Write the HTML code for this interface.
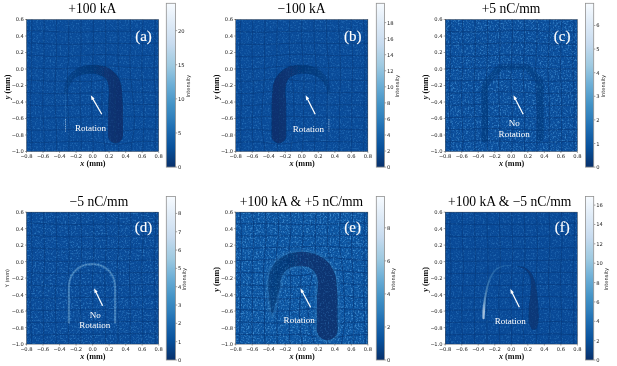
<!DOCTYPE html>
<html lang="en"><head><meta charset="utf-8"><title>Radiograph panels</title>
<style>html,body{margin:0;padding:0;background:#fff;overflow:hidden}svg{display:block}.t{font-family:"Liberation Serif","Times New Roman",serif}.s{font-family:"DejaVu Sans","Liberation Sans",sans-serif}</style></head><body>
<svg width="617" height="366" viewBox="0 0 617 366" role="img" aria-label="Six proton radiograph panels">
<defs>
<linearGradient id="cb" x1="0" y1="1" x2="0" y2="0"><stop offset="0" stop-color="#08306b"/><stop offset="0.06" stop-color="#084184"/><stop offset="0.12" stop-color="#08519c"/><stop offset="0.19" stop-color="#1561a9"/><stop offset="0.25" stop-color="#2171b5"/><stop offset="0.31" stop-color="#3282be"/><stop offset="0.38" stop-color="#4292c6"/><stop offset="0.44" stop-color="#57a0ce"/><stop offset="0.5" stop-color="#6caed6"/><stop offset="0.56" stop-color="#85bcdc"/><stop offset="0.62" stop-color="#9fcae1"/><stop offset="0.69" stop-color="#b3d3e8"/><stop offset="0.75" stop-color="#c7dbef"/><stop offset="0.81" stop-color="#d3e3f3"/><stop offset="0.88" stop-color="#dfebf7"/><stop offset="0.94" stop-color="#ebf3fb"/><stop offset="1" stop-color="#f7fbff"/></linearGradient>
<filter id="nza" x="0" y="0" width="100%" height="100%" color-interpolation-filters="sRGB"><feTurbulence type="fractalNoise" baseFrequency="0.6" numOctaves="2" seed="104" result="n"/><feColorMatrix in="n" type="matrix" values="0 0 0 0 0.27  0 0 0 0 0.58  0 0 0 0 0.84  1 0 0 0 -0.5"/></filter>
<filter id="nda" x="0" y="0" width="100%" height="100%" color-interpolation-filters="sRGB"><feTurbulence type="fractalNoise" baseFrequency="0.62" numOctaves="2" seed="120" result="n"/><feColorMatrix in="n" type="matrix" values="0 0 0 0 0.03  0 0 0 0 0.19  0 0 0 0 0.42  0 0.55 0 0 -0.28"/></filter>
<filter id="nzb" x="0" y="0" width="100%" height="100%" color-interpolation-filters="sRGB"><feTurbulence type="fractalNoise" baseFrequency="0.6" numOctaves="2" seed="105" result="n"/><feColorMatrix in="n" type="matrix" values="0 0 0 0 0.27  0 0 0 0 0.58  0 0 0 0 0.84  1.05 0 0 0 -0.53"/></filter>
<filter id="ndb" x="0" y="0" width="100%" height="100%" color-interpolation-filters="sRGB"><feTurbulence type="fractalNoise" baseFrequency="0.62" numOctaves="2" seed="121" result="n"/><feColorMatrix in="n" type="matrix" values="0 0 0 0 0.03  0 0 0 0 0.19  0 0 0 0 0.42  0 0.58 0 0 -0.29"/></filter>
<filter id="nzc" x="0" y="0" width="100%" height="100%" color-interpolation-filters="sRGB"><feTurbulence type="fractalNoise" baseFrequency="0.6" numOctaves="2" seed="106" result="n"/><feColorMatrix in="n" type="matrix" values="0 0 0 0 0.27  0 0 0 0 0.58  0 0 0 0 0.84  2.1 0 0 0 -1.05"/></filter>
<filter id="ndc" x="0" y="0" width="100%" height="100%" color-interpolation-filters="sRGB"><feTurbulence type="fractalNoise" baseFrequency="0.62" numOctaves="2" seed="122" result="n"/><feColorMatrix in="n" type="matrix" values="0 0 0 0 0.03  0 0 0 0 0.19  0 0 0 0 0.42  0 1.16 0 0 -0.58"/></filter>
<filter id="nzd" x="0" y="0" width="100%" height="100%" color-interpolation-filters="sRGB"><feTurbulence type="fractalNoise" baseFrequency="0.6" numOctaves="2" seed="107" result="n"/><feColorMatrix in="n" type="matrix" values="0 0 0 0 0.27  0 0 0 0 0.58  0 0 0 0 0.84  1.5 0 0 0 -0.75"/></filter>
<filter id="ndd" x="0" y="0" width="100%" height="100%" color-interpolation-filters="sRGB"><feTurbulence type="fractalNoise" baseFrequency="0.62" numOctaves="2" seed="123" result="n"/><feColorMatrix in="n" type="matrix" values="0 0 0 0 0.03  0 0 0 0 0.19  0 0 0 0 0.42  0 0.83 0 0 -0.41"/></filter>
<filter id="nze" x="0" y="0" width="100%" height="100%" color-interpolation-filters="sRGB"><feTurbulence type="fractalNoise" baseFrequency="0.6" numOctaves="2" seed="108" result="n"/><feColorMatrix in="n" type="matrix" values="0 0 0 0 0.27  0 0 0 0 0.58  0 0 0 0 0.84  2.5 0 0 0 -1.25"/></filter>
<filter id="nde" x="0" y="0" width="100%" height="100%" color-interpolation-filters="sRGB"><feTurbulence type="fractalNoise" baseFrequency="0.62" numOctaves="2" seed="124" result="n"/><feColorMatrix in="n" type="matrix" values="0 0 0 0 0.03  0 0 0 0 0.19  0 0 0 0 0.42  0 1.38 0 0 -0.69"/></filter>
<filter id="nzf" x="0" y="0" width="100%" height="100%" color-interpolation-filters="sRGB"><feTurbulence type="fractalNoise" baseFrequency="0.6" numOctaves="2" seed="109" result="n"/><feColorMatrix in="n" type="matrix" values="0 0 0 0 0.27  0 0 0 0 0.58  0 0 0 0 0.84  1 0 0 0 -0.5"/></filter>
<filter id="ndf" x="0" y="0" width="100%" height="100%" color-interpolation-filters="sRGB"><feTurbulence type="fractalNoise" baseFrequency="0.62" numOctaves="2" seed="125" result="n"/><feColorMatrix in="n" type="matrix" values="0 0 0 0 0.03  0 0 0 0 0.19  0 0 0 0 0.42  0 0.55 0 0 -0.28"/></filter>
<filter id="b1" x="-20%" y="-20%" width="140%" height="140%"><feGaussianBlur stdDeviation="0.7"/></filter>
<filter id="b3" x="-20%" y="-20%" width="140%" height="140%"><feGaussianBlur stdDeviation="1.1"/></filter>
<filter id="b2" x="-20%" y="-20%" width="140%" height="140%"><feGaussianBlur stdDeviation="0.45"/></filter>
<marker id="ah" markerWidth="6" markerHeight="6" refX="2" refY="3" orient="auto" markerUnits="userSpaceOnUse"><path d="M0 0.6 L5.2 3 L0 5.4 Z" fill="#fff"/></marker>
</defs>
<rect width="617" height="366" fill="#fff"/>
<g id="panel-a">
<clipPath id="cp0"><rect x="26.5" y="19.5" width="132.2" height="132"/></clipPath>
<rect x="26.5" y="19.5" width="132.2" height="132" fill="#0a4c9a"/>
<g clip-path="url(#cp0)">
<rect x="26.5" y="19.5" width="132.2" height="132" filter="url(#nda)"/>
<rect x="26.5" y="19.5" width="132.2" height="132" filter="url(#nza)"/>
<path transform="translate(26.5 19.5)" d="M5.41 -0.86 L5.35 2.15 L5.29 5.17 L5.22 8.19 L5.17 11.22 L5.12 14.24 L5.09 17.27 L5.08 20.31 L5.08 23.34 L5.09 26.38 L5.12 29.42 L5.16 32.46 L5.19 35.51 L5.23 38.55 L5.25 41.6 L5.25 44.65 L5.24 47.7 L5.2 50.75 L5.14 53.81 L5.05 56.86 L4.94 59.91 L4.81 62.97 L4.68 66.02 L4.54 69.08 L4.4 72.13 L4.27 75.19 L4.16 78.24 L4.08 81.29 L4.02 84.34 L4 87.39 L4.01 90.43 L4.06 93.48 L4.14 96.52 L4.25 99.56 L4.38 102.6 L4.53 105.64 L4.68 108.67 L4.83 111.7 L4.97 114.73 L5.1 117.76 L5.2 120.78 L5.28 123.8 L5.34 126.81 L5.37 129.83 L5.37 132.84 M17.71 -0.48 L17.64 2.57 L17.57 5.62 L17.52 8.67 L17.47 11.72 L17.44 14.77 L17.43 17.82 L17.43 20.88 L17.44 23.93 L17.47 26.98 L17.51 30.04 L17.54 33.09 L17.56 36.14 L17.58 39.19 L17.57 42.23 L17.54 45.28 L17.48 48.32 L17.4 51.37 L17.29 54.41 L17.16 57.46 L17.02 60.5 L16.88 63.55 L16.74 66.6 L16.61 69.64 L16.5 72.68 L16.41 75.72 L16.35 78.75 L16.33 81.77 L16.33 84.79 L16.37 87.8 L16.43 90.81 L16.53 93.82 L16.65 96.82 L16.79 99.82 L16.94 102.82 L17.09 105.82 L17.24 108.82 L17.38 111.81 L17.5 114.8 L17.61 117.79 L17.68 120.77 L17.73 123.75 L17.75 126.73 L17.75 129.71 L17.73 132.68 M29.99 0.16 L29.92 3.21 L29.86 6.26 L29.82 9.3 L29.79 12.35 L29.77 15.4 L29.78 18.44 L29.79 21.48 L29.82 24.51 L29.84 27.54 L29.86 30.56 L29.87 33.58 L29.85 36.58 L29.8 39.57 L29.72 42.56 L29.6 45.55 L29.45 48.54 L29.28 51.56 L29.1 54.59 L28.93 57.64 L28.78 60.71 L28.65 63.79 L28.56 66.87 L28.5 69.93 L28.47 72.97 L28.48 75.98 L28.51 78.97 L28.58 81.93 L28.66 84.88 L28.77 87.83 L28.89 90.77 L29.03 93.72 L29.19 96.68 L29.35 99.63 L29.5 102.6 L29.66 105.56 L29.79 108.53 L29.91 111.49 L30.01 114.45 L30.08 117.42 L30.12 120.38 L30.13 123.34 L30.12 126.3 L30.1 129.26 L30.05 132.22 M42.27 0.64 L42.21 3.66 L42.16 6.69 L42.13 9.71 L42.12 12.72 L42.12 15.73 L42.14 18.74 L42.16 21.73 L42.18 24.71 L42.18 27.67 L42.17 30.6 L42.11 33.5 L42.01 36.39 L41.87 39.26 L41.7 42.16 L41.5 45.11 L41.32 48.13 L41.16 51.23 L41.05 54.38 L40.98 57.57 L40.96 60.76 L40.97 63.91 L40.99 67 L41.02 70.04 L41.05 73.01 L41.07 75.95 L41.11 78.85 L41.17 81.74 L41.25 84.62 L41.35 87.51 L41.48 90.41 L41.62 93.32 L41.77 96.25 L41.92 99.19 L42.07 102.14 L42.2 105.1 L42.32 108.06 L42.41 111.02 L42.47 113.99 L42.51 116.95 L42.51 119.92 L42.5 122.89 L42.46 125.85 L42.42 128.82 L42.36 131.8 M54.55 0.71 L54.51 3.7 L54.48 6.69 L54.47 9.67 L54.47 12.65 L54.49 15.62 L54.51 18.58 L54.53 21.52 L54.54 24.43 L54.53 27.29 L54.48 30.1 L54.39 32.87 L54.26 35.64 L54.1 38.45 L53.91 41.37 L53.74 44.45 L53.61 47.68 L53.52 51.04 L53.5 54.43 L53.51 57.78 L53.55 61 L53.59 64.07 L53.61 67.01 L53.61 69.86 L53.61 72.68 L53.61 75.49 L53.63 78.32 L53.67 81.18 L53.74 84.08 L53.85 86.99 L53.97 89.93 L54.11 92.88 L54.26 95.84 L54.4 98.81 L54.52 101.78 L54.63 104.76 L54.72 107.74 L54.78 110.73 L54.82 113.71 L54.83 116.7 L54.82 119.69 L54.79 122.68 L54.75 125.66 L54.7 128.65 L54.65 131.64 M66.85 0.43 L66.82 3.4 L66.81 6.37 L66.82 9.33 L66.84 12.3 L66.86 15.25 L66.89 18.19 L66.92 21.1 L66.93 23.97 L66.93 26.78 L66.9 29.52 L66.84 32.21 L66.74 34.91 L66.6 37.68 L66.42 40.61 L66.2 43.77 L65.95 47.14 L65.69 50.66 L65.45 54.2 L65.22 57.65 L65.04 60.9 L64.9 63.94 L64.82 66.82 L64.77 69.59 L64.76 72.33 L64.79 75.1 L64.84 77.92 L64.92 80.8 L65.01 83.72 L65.11 86.67 L65.22 89.65 L65.33 92.64 L65.43 95.65 L65.54 98.68 L65.65 101.72 L65.76 104.77 L65.88 107.84 L66.01 110.91 L66.16 113.96 L66.31 117 L66.46 120 L66.58 122.98 L66.68 125.94 L66.76 128.89 L66.8 131.84 M79.16 0.06 L79.16 3.04 L79.16 6.01 L79.18 8.99 L79.21 11.96 L79.24 14.93 L79.27 17.88 L79.29 20.82 L79.3 23.72 L79.31 26.57 L79.32 29.34 L79.32 32.06 L79.32 34.73 L79.29 37.41 L79.22 40.18 L79.08 43.1 L78.85 46.21 L78.51 49.5 L78.08 52.89 L77.58 56.29 L77.08 59.62 L76.61 62.81 L76.21 65.87 L75.9 68.81 L75.67 71.69 L75.53 74.55 L75.45 77.43 L75.41 80.33 L75.4 83.28 L75.4 86.26 L75.41 89.28 L75.43 92.35 L75.45 95.47 L75.49 98.67 L75.57 101.95 L75.71 105.31 L75.92 108.72 L76.22 112.13 L76.6 115.47 L77.03 118.67 L77.49 121.7 L77.92 124.56 L78.3 127.29 L78.61 129.96 L78.84 132.62 M91.5 -0.13 L91.51 2.86 L91.53 5.85 L91.55 8.84 L91.58 11.83 L91.6 14.82 L91.62 17.81 L91.62 20.79 L91.61 23.75 L91.59 26.69 L91.57 29.6 L91.57 32.45 L91.59 35.26 L91.65 38.03 L91.74 40.78 L91.85 43.54 L91.98 46.36 L92.08 49.25 L92.16 52.23 L92.19 55.29 L92.18 58.4 L92.16 61.53 L92.14 64.65 L92.15 67.75 L92.19 70.82 L92.29 73.86 L92.42 76.89 L92.58 79.91 L92.77 82.94 L92.96 85.98 L93.13 89.05 L93.29 92.17 L93.41 95.36 L93.5 98.65 L93.52 102.07 L93.49 105.62 L93.4 109.24 L93.24 112.85 L93.03 116.36 L92.78 119.66 L92.52 122.69 L92.27 125.46 L92.06 128.05 L91.88 130.53 L91.76 133.02 M103.85 -0.13 L103.87 2.86 L103.9 5.86 L103.92 8.86 L103.94 11.86 L103.95 14.86 L103.94 17.85 L103.91 20.85 L103.86 23.84 L103.8 26.83 L103.72 29.81 L103.64 32.78 L103.57 35.74 L103.52 38.68 L103.5 41.6 L103.53 44.51 L103.61 47.42 L103.74 50.33 L103.94 53.26 L104.17 56.21 L104.45 59.18 L104.75 62.18 L105.07 65.2 L105.39 68.23 L105.73 71.27 L106.06 74.3 L106.39 77.33 L106.7 80.36 L107 83.38 L107.26 86.41 L107.5 89.43 L107.69 92.48 L107.83 95.54 L107.9 98.65 L107.89 101.81 L107.78 105.01 L107.56 108.24 L107.23 111.47 L106.8 114.66 L106.31 117.77 L105.8 120.78 L105.31 123.7 L104.89 126.54 L104.55 129.34 L104.31 132.15 M116.22 -0.13 L116.24 2.87 L116.26 5.86 L116.28 8.85 L116.28 11.84 L116.27 14.84 L116.24 17.83 L116.18 20.82 L116.11 23.81 L116.02 26.8 L115.91 29.78 L115.8 32.77 L115.68 35.76 L115.57 38.74 L115.48 41.72 L115.42 44.71 L115.38 47.69 L115.38 50.67 L115.42 53.65 L115.5 56.63 L115.62 59.61 L115.77 62.6 L115.94 65.59 L116.14 68.59 L116.34 71.58 L116.54 74.58 L116.73 77.58 L116.91 80.58 L117.07 83.58 L117.2 86.58 L117.3 89.58 L117.36 92.58 L117.39 95.59 L117.39 98.61 L117.35 101.62 L117.28 104.65 L117.19 107.68 L117.07 110.71 L116.93 113.74 L116.79 116.76 L116.66 119.77 L116.54 122.78 L116.45 125.78 L116.39 128.78 L116.36 131.78 M128.58 -0.26 L128.6 2.73 L128.62 5.71 L128.62 8.7 L128.6 11.69 L128.57 14.67 L128.51 17.66 L128.43 20.64 L128.34 23.63 L128.23 26.62 L128.12 29.61 L128 32.6 L127.89 35.59 L127.8 38.58 L127.72 41.57 L127.68 44.56 L127.66 47.56 L127.68 50.55 L127.73 53.55 L127.81 56.55 L127.93 59.55 L128.06 62.55 L128.22 65.56 L128.38 68.56 L128.55 71.57 L128.71 74.58 L128.85 77.59 L128.97 80.61 L129.07 83.62 L129.14 86.64 L129.18 89.66 L129.19 92.68 L129.17 95.7 L129.13 98.73 L129.07 101.75 L128.99 104.78 L128.92 107.81 L128.84 110.84 L128.77 113.87 L128.71 116.9 L128.67 119.94 L128.65 122.97 L128.64 126.01 L128.65 129.04 L128.67 132.08 M0.29 11.03 L3.28 11.07 L6.27 11.14 L9.26 11.24 L12.25 11.36 L15.24 11.5 L18.23 11.66 L21.23 11.82 L24.22 11.97 L27.22 12.13 L30.21 12.27 L33.21 12.39 L36.21 12.49 L39.2 12.57 L42.2 12.62 L45.21 12.64 L48.21 12.64 L51.21 12.61 L54.21 12.56 L57.22 12.49 L60.22 12.41 L63.23 12.31 L66.24 12.22 L69.24 12.12 L72.25 12.03 L75.26 11.95 L78.27 11.88 L81.27 11.82 L84.28 11.78 L87.29 11.75 L90.3 11.74 L93.3 11.73 L96.31 11.73 L99.31 11.74 L102.32 11.75 L105.32 11.76 L108.32 11.77 L111.32 11.77 L114.32 11.76 L117.32 11.74 L120.31 11.71 L123.31 11.67 L126.3 11.62 L129.3 11.57 L132.29 11.52 M0.18 23.35 L3.18 23.43 L6.19 23.54 L9.19 23.66 L12.2 23.81 L15.21 23.96 L18.21 24.12 L21.22 24.28 L24.23 24.43 L27.24 24.57 L30.24 24.68 L33.25 24.77 L36.26 24.83 L39.26 24.86 L42.26 24.86 L45.27 24.82 L48.27 24.76 L51.28 24.68 L54.28 24.58 L57.29 24.47 L60.3 24.35 L63.32 24.24 L66.33 24.13 L69.34 24.04 L72.35 23.96 L75.36 23.91 L78.36 23.87 L81.36 23.85 L84.36 23.86 L87.35 23.87 L90.33 23.89 L93.31 23.92 L96.29 23.94 L99.27 23.97 L102.25 23.99 L105.23 24 L108.2 24 L111.18 23.99 L114.16 23.97 L117.13 23.94 L120.11 23.91 L123.08 23.86 L126.05 23.82 L129.02 23.77 L131.99 23.72 M0.29 35.72 L3.3 35.83 L6.31 35.96 L9.32 36.11 L12.33 36.27 L15.33 36.43 L18.33 36.58 L21.33 36.72 L24.32 36.84 L27.3 36.93 L30.27 36.98 L33.23 37 L36.18 36.96 L39.13 36.88 L42.08 36.76 L45.04 36.61 L48 36.43 L50.99 36.23 L53.98 36.03 L57 35.82 L60.02 35.63 L63.06 35.45 L66.11 35.3 L69.17 35.17 L72.24 35.09 L75.3 35.05 L78.36 35.07 L81.4 35.13 L84.42 35.25 L87.4 35.39 L90.35 35.56 L93.27 35.73 L96.17 35.88 L99.08 36 L101.98 36.1 L104.9 36.16 L107.83 36.19 L110.78 36.19 L113.73 36.17 L116.69 36.14 L119.65 36.1 L122.62 36.06 L125.59 36.02 L128.57 35.98 L131.54 35.94 M0.35 48.13 L3.35 48.27 L6.33 48.42 L9.32 48.58 L12.3 48.74 L15.26 48.88 L18.22 49.01 L21.15 49.12 L24.06 49.18 L26.95 49.21 L29.82 49.19 L32.68 49.13 L35.55 49.03 L38.44 48.92 L41.36 48.79 L44.32 48.68 L47.31 48.57 L50.31 48.49 L53.32 48.41 L56.33 48.33 L59.32 48.23 L62.31 48.1 L65.3 47.93 L68.32 47.72 L71.39 47.48 L74.54 47.22 L77.76 46.97 L81.04 46.79 L84.32 46.7 L87.56 46.74 L90.7 46.88 L93.71 47.12 L96.59 47.4 L99.39 47.69 L102.14 47.94 L104.9 48.13 L107.7 48.25 L110.55 48.32 L113.46 48.34 L116.4 48.33 L119.37 48.3 L122.35 48.26 L125.35 48.23 L128.36 48.2 L131.37 48.19 M0.07 60.57 L3.04 60.73 L6 60.89 L8.95 61.05 L11.89 61.2 L14.82 61.33 L17.72 61.45 L20.6 61.53 L23.45 61.59 L26.29 61.62 L29.14 61.64 L32.03 61.64 L34.97 61.65 L37.98 61.67 L41.05 61.71 L44.15 61.76 L47.25 61.82 L50.31 61.88 L53.31 61.93 L56.22 61.96 L59.04 61.97 L61.78 61.94 L64.46 61.86 L67.13 61.71 L69.86 61.47 L72.75 61.14 L75.89 60.73 L79.32 60.28 L83.01 59.86 L86.83 59.54 L90.62 59.37 L94.19 59.35 L97.45 59.49 L100.4 59.71 L103.12 59.95 L105.72 60.17 L108.33 60.34 L111.01 60.45 L113.79 60.5 L116.66 60.51 L119.61 60.5 L122.61 60.48 L125.63 60.46 L128.67 60.45 L131.72 60.46 M-0.48 73.04 L2.48 73.2 L5.44 73.36 L8.39 73.51 L11.34 73.65 L14.28 73.77 L17.21 73.87 L20.12 73.96 L23.03 74.03 L25.95 74.09 L28.89 74.13 L31.88 74.17 L34.93 74.18 L38.02 74.18 L41.14 74.14 L44.26 74.08 L47.35 73.99 L50.39 73.88 L53.36 73.76 L56.24 73.65 L59.04 73.55 L61.72 73.47 L64.27 73.4 L66.73 73.32 L69.17 73.22 L71.74 73.06 L74.62 72.86 L77.95 72.61 L81.8 72.36 L86.03 72.15 L90.39 72.01 L94.59 71.98 L98.37 72.05 L101.64 72.18 L104.46 72.35 L107 72.5 L109.46 72.61 L111.97 72.69 L114.61 72.72 L117.39 72.73 L120.29 72.73 L123.26 72.72 L126.27 72.72 L129.31 72.73 L132.36 72.76 M-0.87 85.51 L2.12 85.67 L5.11 85.81 L8.11 85.94 L11.11 86.05 L14.11 86.14 L17.11 86.21 L20.11 86.25 L23.11 86.27 L26.12 86.27 L29.14 86.25 L32.18 86.22 L35.23 86.15 L38.3 86.07 L41.38 85.96 L44.45 85.84 L47.51 85.7 L50.54 85.57 L53.53 85.45 L56.47 85.34 L59.31 85.25 L62.02 85.17 L64.56 85.11 L66.95 85.03 L69.26 84.95 L71.68 84.84 L74.43 84.71 L77.73 84.57 L81.68 84.45 L86.16 84.37 L90.87 84.35 L95.42 84.39 L99.49 84.48 L102.92 84.61 L105.76 84.73 L108.22 84.84 L110.53 84.91 L112.89 84.96 L115.4 84.97 L118.08 84.98 L120.9 84.98 L123.82 84.99 L126.8 85 L129.81 85.04 L132.82 85.09 M-0.75 97.97 L2.28 98.11 L5.32 98.24 L8.36 98.34 L11.41 98.41 L14.45 98.46 L17.5 98.47 L20.55 98.46 L23.6 98.43 L26.65 98.37 L29.71 98.29 L32.76 98.2 L35.82 98.09 L38.88 97.98 L41.94 97.86 L45 97.75 L48.04 97.65 L51.08 97.55 L54.08 97.48 L57.02 97.42 L59.85 97.37 L62.53 97.34 L65.02 97.32 L67.32 97.3 L69.52 97.28 L71.83 97.26 L74.51 97.23 L77.81 97.2 L81.84 97.17 L86.48 97.15 L91.39 97.15 L96.13 97.16 L100.32 97.19 L103.78 97.21 L106.57 97.24 L108.92 97.25 L111.1 97.26 L113.32 97.25 L115.72 97.25 L118.31 97.25 L121.07 97.26 L123.93 97.28 L126.87 97.32 L129.84 97.38 L132.82 97.46 M-0.21 110.41 L2.85 110.53 L5.9 110.62 L8.95 110.69 L12.01 110.72 L15.06 110.73 L18.11 110.7 L21.16 110.65 L24.21 110.58 L27.26 110.49 L30.3 110.39 L33.35 110.27 L36.39 110.16 L39.43 110.04 L42.46 109.93 L45.5 109.83 L48.52 109.75 L51.53 109.68 L54.51 109.64 L57.44 109.61 L60.27 109.62 L62.96 109.66 L65.48 109.76 L67.83 109.91 L70.1 110.14 L72.46 110.44 L75.15 110.78 L78.39 111.12 L82.26 111.4 L86.68 111.56 L91.34 111.58 L95.84 111.43 L99.86 111.16 L103.24 110.82 L106.03 110.47 L108.43 110.15 L110.68 109.91 L112.97 109.74 L115.42 109.63 L118.04 109.59 L120.8 109.58 L123.67 109.61 L126.59 109.67 L129.55 109.75 L132.53 109.84 M0.31 122.82 L3.35 122.9 L6.38 122.96 L9.41 122.98 L12.44 122.98 L15.47 122.95 L18.49 122.89 L21.51 122.81 L24.53 122.71 L27.55 122.6 L30.56 122.48 L33.57 122.36 L36.58 122.25 L39.58 122.14 L42.59 122.04 L45.59 121.96 L48.59 121.9 L51.57 121.85 L54.55 121.83 L57.5 121.83 L60.4 121.87 L63.25 121.95 L66.01 122.1 L68.69 122.34 L71.34 122.67 L74.02 123.1 L76.87 123.6 L79.96 124.1 L83.35 124.51 L87 124.75 L90.75 124.77 L94.44 124.55 L97.9 124.15 L101.06 123.65 L103.96 123.13 L106.67 122.68 L109.32 122.34 L111.99 122.1 L114.73 121.97 L117.56 121.92 L120.45 121.92 L123.39 121.97 L126.36 122.04 L129.34 122.14 L132.34 122.24" stroke="#083a7c" stroke-width="0.95" fill="none" opacity="0.62"/>
<g transform="translate(26.5 19.5)">
<linearGradient id="ga" gradientUnits="userSpaceOnUse" x1="38" y1="0" x2="95" y2="0"><stop offset="0" stop-color="#083472" stop-opacity="0.34"/><stop offset="0.14" stop-color="#083472" stop-opacity="0.5"/><stop offset="0.45" stop-color="#083472" stop-opacity="0.74"/><stop offset="0.75" stop-color="#08326f" stop-opacity="0.88"/><stop offset="0.9" stop-color="#08316d" stop-opacity="0.96"/></linearGradient>
<path d="M37.6 74.76 L37.59 72.86 L37.59 71.01 L37.64 69.19 L37.78 67.39 L38.03 65.6 L38.42 63.84 L38.97 62.12 L39.7 60.47 L40.6 58.93 L41.61 57.45 L42.69 56.02 L43.84 54.64 L45.07 53.32 L46.39 52.08 L47.8 50.9 L49.29 49.82 L50.87 48.83 L52.53 47.95 L54.27 47.19 L56.08 46.56 L57.96 46.07 L59.9 45.74 L61.89 45.55 L63.99 45.44 L67.09 45.32 L69.45 45.32 L71.6 45.42 L73.63 45.64 L75.57 45.98 L77.43 46.46 L79.2 47.08 L80.89 47.84 L82.49 48.73 L84.02 49.7 L85.49 50.76 L86.88 51.92 L88.2 53.18 L89.43 54.54 L90.57 56.01 L91.62 57.57 L92.56 59.24 L93.39 61.01 L94.1 62.89 L94.68 64.86 L95.12 66.95 L95.41 69.18 L95.59 71.64 L95.78 74.75 L95.97 77.39 L96.16 79.99 L96.32 82.58 L96.4 85.17 L96.4 87.77 L96.41 90.36 L96.41 92.96 L96.42 95.55 L96.44 98.14 L96.45 100.74 L96.46 103.33 L96.47 105.92 L96.48 108.52 L96.49 111.11 L96.5 113.71 L96.5 116.3 L96.24 118.24 L95.5 120.05 L94.3 121.6 L92.75 122.8 L90.94 123.54 L89 123.8 L87.06 123.54 L85.25 122.8 L83.7 121.6 L82.5 120.05 L81.76 118.24 L81.5 116.3 L81.5 113.71 L81.51 111.11 L81.52 108.52 L81.53 105.92 L81.54 103.33 L81.55 100.74 L81.56 98.14 L81.58 95.55 L81.59 92.96 L81.59 90.36 L81.6 87.77 L81.6 85.17 L81.68 82.58 L81.84 79.99 L82.03 77.39 L82.22 74.85 L82.33 72.08 L82.26 70.29 L82.12 68.77 L81.98 67.42 L81.81 66.19 L81.6 65.05 L81.35 63.99 L81.05 62.99 L80.69 62.06 L80.27 61.18 L79.78 60.35 L79.22 59.58 L78.58 58.86 L77.86 58.2 L77.05 57.61 L76.14 57.09 L75.17 56.61 L74.11 56.15 L72.96 55.71 L71.69 55.3 L70.27 54.94 L68.67 54.62 L66.79 54.36 L64.01 54.16 L62.38 54.15 L60.91 54.27 L59.5 54.44 L58.12 54.66 L56.77 54.94 L55.44 55.28 L54.14 55.69 L52.87 56.18 L51.63 56.75 L50.44 57.42 L49.3 58.17 L48.22 59.02 L47.21 59.96 L46.28 60.99 L45.46 62.11 L44.7 63.29 L43.95 64.49 L43.21 65.73 L42.5 67.04 L41.84 68.41 L41.27 69.86 L40.82 71.4 L40.52 73.02 L40.4 74.84Z" fill="url(#ga)" filter="url(#b1)"/>
<path d="M39 110.5 V72" stroke="#4f93cc" stroke-width="1" opacity="0.22" fill="none"/>
<path d="M39 112.3 V98.5" stroke="#d8e8f6" stroke-width="0.85" stroke-dasharray="1.3 1.0" opacity="0.62" fill="none"/>
</g>
<rect x="26.87" y="20.11" width="131.83" height="131.39" filter="url(#nza)" opacity="0.4"/>
</g>
<rect x="26.5" y="19.5" width="132.2" height="132" fill="none" stroke="#222" stroke-width="0.35"/>
<path d="M26.5 151.5 v1.5 M26.5 19.5 h-1.5 M43.02 151.5 v1.5 M26.5 36 h-1.5 M59.55 151.5 v1.5 M26.5 52.5 h-1.5 M76.07 151.5 v1.5 M26.5 69 h-1.5 M92.6 151.5 v1.5 M26.5 85.5 h-1.5 M109.12 151.5 v1.5 M26.5 102 h-1.5 M125.65 151.5 v1.5 M26.5 118.5 h-1.5 M142.17 151.5 v1.5 M26.5 135 h-1.5 M158.7 151.5 v1.5 M26.5 151.5 h-1.5" stroke="#222" stroke-width="0.4" fill="none"/>
<g class="s" font-size="5.2" fill="#222">
<text x="26.5" y="158.2" text-anchor="middle">−<tspan dx="-0.45">0.8</tspan></text>
<text x="43.02" y="158.2" text-anchor="middle">−<tspan dx="-0.45">0.6</tspan></text>
<text x="59.55" y="158.2" text-anchor="middle">−<tspan dx="-0.45">0.4</tspan></text>
<text x="76.07" y="158.2" text-anchor="middle">−<tspan dx="-0.45">0.2</tspan></text>
<text x="92.6" y="158.2" text-anchor="middle">0.0</text>
<text x="109.12" y="158.2" text-anchor="middle">0.2</text>
<text x="125.65" y="158.2" text-anchor="middle">0.4</text>
<text x="142.17" y="158.2" text-anchor="middle">0.6</text>
<text x="158.7" y="158.2" text-anchor="middle">0.8</text>
<text x="23.9" y="21.4" text-anchor="end">0.6</text>
<text x="23.9" y="37.9" text-anchor="end">0.4</text>
<text x="23.9" y="54.4" text-anchor="end">0.2</text>
<text x="23.9" y="70.9" text-anchor="end">0.0</text>
<text x="23.9" y="87.4" text-anchor="end">−<tspan dx="-0.45">0.2</tspan></text>
<text x="23.9" y="103.9" text-anchor="end">−<tspan dx="-0.45">0.4</tspan></text>
<text x="23.9" y="120.4" text-anchor="end">−<tspan dx="-0.45">0.6</tspan></text>
<text x="23.9" y="136.9" text-anchor="end">−<tspan dx="-0.45">0.8</tspan></text>
<text x="23.9" y="153.4" text-anchor="end">−<tspan dx="-0.45">1.0</tspan></text>
</g>
<text class="t" x="92.9" y="166.45" text-anchor="middle" font-size="8.2" font-weight="bold" fill="#111"><tspan font-style="italic">x</tspan> (mm)</text>
<text class="t" transform="translate(9.5 86.8) rotate(-90)" text-anchor="middle" font-size="8.2" font-weight="bold" fill="#111"><tspan font-style="italic">y</tspan> (mm)</text>
<text class="t" x="92.3" y="13.2" text-anchor="middle" font-size="13.6" fill="#000">+100 kA</text>
<text class="t" x="143.5" y="40.65" text-anchor="middle" font-size="15" fill="#fff" stroke="#fff" stroke-width="0.15">(a)</text>
<g transform="translate(26.5 19.5)">
<path d="M75.3 94.7 L66.36 79.34" stroke="#fff" stroke-width="1.25" fill="none"/>
<path d="M64.3 75.8 L68.13 78.9 L65.1 80.66 Z" fill="#fff"/>
<text class="t" x="64" y="111.8" text-anchor="middle" font-size="9.05" fill="#fff">Rotation</text>
</g>
<rect x="166.3" y="3.3" width="9.2" height="163.8" fill="url(#cb)" stroke="#909090" stroke-width="0.8"/>
<g class="s" font-size="5.2" fill="#222">
<text x="178" y="169.1">0</text>
<text x="178" y="134.97">5</text>
<text x="178" y="100.85">10</text>
<text x="178" y="66.73">15</text>
<text x="178" y="32.6">20</text>
</g>
<path d="M175.8 167.1 h1.4 M175.8 132.97 h1.4 M175.8 98.85 h1.4 M175.8 64.73 h1.4 M175.8 30.6 h1.4" stroke="#222" stroke-width="0.4" fill="none"/>
<text class="s" transform="translate(189.5 86.2) rotate(-90)" text-anchor="middle" font-size="5.2" fill="#333">Intensity</text>
</g>
<g id="panel-b">
<clipPath id="cp1"><rect x="235.7" y="19.5" width="132.2" height="132"/></clipPath>
<rect x="235.7" y="19.5" width="132.2" height="132" fill="#0a4c9a"/>
<g clip-path="url(#cp1)">
<rect x="235.7" y="19.5" width="132.2" height="132" filter="url(#ndb)"/>
<rect x="235.7" y="19.5" width="132.2" height="132" filter="url(#nzb)"/>
<path transform="translate(235.7 19.5)" d="M4.94 -0.02 L4.89 3.03 L4.82 6.08 L4.73 9.14 L4.63 12.19 L4.52 15.25 L4.41 18.3 L4.31 21.35 L4.22 24.4 L4.14 27.45 L4.1 30.49 L4.08 33.54 L4.09 36.58 L4.14 39.62 L4.22 42.66 L4.33 45.69 L4.46 48.72 L4.61 51.75 L4.78 54.78 L4.94 57.8 L5.1 60.82 L5.24 63.84 L5.36 66.85 L5.46 69.86 L5.53 72.87 L5.57 75.88 L5.58 78.88 L5.56 81.88 L5.51 84.87 L5.45 87.86 L5.37 90.85 L5.29 93.83 L5.2 96.82 L5.13 99.8 L5.07 102.77 L5.02 105.75 L4.99 108.72 L4.98 111.69 L4.98 114.65 L5 117.62 L5.03 120.58 L5.07 123.54 L5.09 126.5 L5.11 129.45 L5.12 132.41 M17.22 0.58 L17.15 3.62 L17.06 6.66 L16.96 9.69 L16.85 12.72 L16.75 15.75 L16.65 18.78 L16.56 21.8 L16.5 24.82 L16.46 27.83 L16.45 30.84 L16.47 33.85 L16.52 36.85 L16.6 39.85 L16.71 42.84 L16.83 45.83 L16.95 48.81 L17.08 51.79 L17.2 54.76 L17.31 57.74 L17.4 60.71 L17.46 63.69 L17.49 66.66 L17.5 69.64 L17.48 72.62 L17.43 75.59 L17.36 78.56 L17.27 81.53 L17.16 84.5 L17.05 87.46 L16.93 90.43 L16.83 93.39 L16.73 96.36 L16.66 99.33 L16.61 102.3 L16.6 105.28 L16.63 108.27 L16.69 111.25 L16.79 114.23 L16.91 117.2 L17.03 120.15 L17.15 123.1 L17.25 126.03 L17.32 128.96 L17.36 131.89 M29.47 0.84 L29.39 3.84 L29.29 6.84 L29.18 9.84 L29.08 12.83 L28.99 15.82 L28.91 18.8 L28.85 21.78 L28.82 24.76 L28.81 27.72 L28.83 30.68 L28.86 33.61 L28.91 36.53 L28.95 39.43 L28.98 42.31 L28.99 45.17 L28.96 48.03 L28.9 50.9 L28.81 53.78 L28.68 56.69 L28.54 59.63 L28.37 62.6 L28.19 65.59 L28 68.59 L27.8 71.59 L27.58 74.6 L27.35 77.6 L27.12 80.59 L26.88 83.58 L26.65 86.57 L26.43 89.57 L26.24 92.59 L26.08 95.63 L25.98 98.73 L25.97 101.88 L26.04 105.09 L26.23 108.33 L26.54 111.57 L26.95 114.77 L27.43 117.87 L27.93 120.86 L28.4 123.74 L28.81 126.53 L29.12 129.29 L29.33 132.04 M41.72 0.63 L41.62 3.6 L41.52 6.56 L41.42 9.53 L41.33 12.49 L41.26 15.45 L41.21 18.4 L41.18 21.34 L41.17 24.27 L41.19 27.16 L41.21 30.01 L41.23 32.81 L41.23 35.56 L41.2 38.27 L41.15 40.96 L41.09 43.68 L41.04 46.47 L41.02 49.34 L41.06 52.31 L41.14 55.36 L41.27 58.46 L41.43 61.57 L41.58 64.66 L41.7 67.72 L41.77 70.75 L41.79 73.75 L41.77 76.74 L41.71 79.73 L41.63 82.72 L41.53 85.74 L41.44 88.79 L41.36 91.89 L41.3 95.06 L41.27 98.35 L41.26 101.77 L41.29 105.32 L41.34 108.95 L41.43 112.58 L41.53 116.09 L41.64 119.4 L41.75 122.44 L41.84 125.22 L41.9 127.8 L41.92 130.28 L41.9 132.77 M53.95 0.15 L53.85 3.11 L53.76 6.07 L53.68 9.03 L53.61 11.99 L53.57 14.94 L53.56 17.88 L53.57 20.8 L53.61 23.68 L53.67 26.5 L53.73 29.26 L53.81 31.95 L53.9 34.6 L54 37.28 L54.14 40.05 L54.34 42.99 L54.62 46.13 L54.98 49.45 L55.41 52.87 L55.89 56.28 L56.36 59.61 L56.79 62.78 L57.15 65.81 L57.43 68.72 L57.64 71.58 L57.78 74.42 L57.89 77.28 L57.97 80.18 L58.05 83.12 L58.13 86.1 L58.21 89.11 L58.29 92.17 L58.36 95.28 L58.41 98.46 L58.41 101.72 L58.33 105.05 L58.16 108.43 L57.87 111.8 L57.47 115.11 L56.99 118.3 L56.47 121.34 L55.94 124.23 L55.44 127 L55.01 129.72 L54.66 132.44 M66.19 -0.24 L66.1 2.73 L66.03 5.71 L65.97 8.69 L65.94 11.66 L65.94 14.63 L65.97 17.59 L66.04 20.52 L66.14 23.4 L66.27 26.23 L66.43 29 L66.62 31.72 L66.83 34.45 L67.06 37.26 L67.3 40.23 L67.53 43.41 L67.76 46.82 L67.95 50.36 L68.1 53.93 L68.19 57.39 L68.24 60.67 L68.24 63.73 L68.21 66.63 L68.15 69.42 L68.09 72.2 L68.02 74.99 L67.96 77.84 L67.92 80.74 L67.89 83.69 L67.87 86.66 L67.87 89.66 L67.89 92.67 L67.92 95.7 L67.94 98.73 L67.96 101.78 L67.96 104.84 L67.92 107.9 L67.84 110.97 L67.72 114.02 L67.56 117.06 L67.37 120.08 L67.16 123.07 L66.96 126.05 L66.76 129.01 L66.57 131.98 M78.45 -0.36 L78.38 2.63 L78.33 5.63 L78.31 8.63 L78.32 11.63 L78.36 14.62 L78.44 17.61 L78.55 20.57 L78.7 23.51 L78.88 26.41 L79.09 29.27 L79.34 32.09 L79.6 34.9 L79.87 37.75 L80.11 40.71 L80.29 43.81 L80.39 47.06 L80.4 50.44 L80.3 53.85 L80.14 57.23 L79.93 60.5 L79.72 63.63 L79.52 66.63 L79.37 69.54 L79.25 72.41 L79.18 75.28 L79.13 78.16 L79.1 81.06 L79.08 83.99 L79.08 86.94 L79.08 89.9 L79.1 92.88 L79.12 95.87 L79.15 98.87 L79.17 101.87 L79.19 104.87 L79.2 107.88 L79.2 110.88 L79.18 113.89 L79.13 116.89 L79.07 119.9 L78.99 122.9 L78.89 125.9 L78.78 128.9 L78.66 131.9 M90.74 -0.28 L90.7 2.73 L90.69 5.74 L90.7 8.74 L90.76 11.75 L90.84 14.75 L90.95 17.75 L91.09 20.75 L91.25 23.73 L91.44 26.7 L91.64 29.64 L91.86 32.57 L92.1 35.47 L92.33 38.37 L92.55 41.29 L92.74 44.25 L92.88 47.28 L92.94 50.37 L92.91 53.53 L92.81 56.73 L92.63 59.93 L92.42 63.1 L92.19 66.23 L91.98 69.3 L91.79 72.33 L91.64 75.31 L91.53 78.25 L91.45 81.18 L91.41 84.1 L91.39 87.03 L91.39 89.97 L91.4 92.92 L91.42 95.89 L91.45 98.87 L91.47 101.85 L91.48 104.85 L91.48 107.85 L91.46 110.85 L91.42 113.85 L91.37 116.86 L91.29 119.86 L91.2 122.86 L91.09 125.87 L90.98 128.88 L90.88 131.88 M103.07 -0.2 L103.06 2.8 L103.09 5.8 L103.15 8.8 L103.24 11.8 L103.36 14.8 L103.5 17.8 L103.65 20.8 L103.82 23.79 L103.99 26.78 L104.16 29.77 L104.32 32.75 L104.47 35.73 L104.6 38.7 L104.71 41.66 L104.8 44.63 L104.87 47.61 L104.91 50.6 L104.91 53.62 L104.87 56.65 L104.79 59.71 L104.68 62.77 L104.55 65.84 L104.4 68.9 L104.25 71.94 L104.11 74.96 L103.99 77.97 L103.9 80.95 L103.83 83.93 L103.8 86.91 L103.79 89.88 L103.79 92.87 L103.8 95.86 L103.82 98.86 L103.82 101.86 L103.82 104.87 L103.8 107.88 L103.75 110.89 L103.69 113.91 L103.62 116.93 L103.52 119.94 L103.42 122.96 L103.32 125.98 L103.21 129 L103.12 132.03 M115.44 -0.25 L115.48 2.74 L115.55 5.74 L115.65 8.73 L115.77 11.73 L115.91 14.73 L116.07 17.72 L116.24 20.72 L116.4 23.72 L116.56 26.72 L116.69 29.72 L116.81 32.72 L116.9 35.72 L116.95 38.72 L116.98 41.72 L116.97 44.72 L116.94 47.73 L116.88 50.73 L116.81 53.74 L116.72 56.75 L116.62 59.77 L116.52 62.79 L116.42 65.81 L116.32 68.83 L116.24 71.85 L116.18 74.88 L116.14 77.9 L116.11 80.92 L116.1 83.93 L116.11 86.95 L116.12 89.97 L116.14 92.99 L116.15 96.02 L116.16 99.04 L116.15 102.07 L116.13 105.09 L116.09 108.12 L116.02 111.15 L115.94 114.18 L115.85 117.21 L115.75 120.24 L115.65 123.27 L115.55 126.3 L115.47 129.33 L115.4 132.36 M127.87 -0.33 L127.95 2.67 L128.05 5.67 L128.18 8.68 L128.33 11.69 L128.49 14.7 L128.66 17.71 L128.82 20.72 L128.97 23.73 L129.1 26.75 L129.2 29.76 L129.28 32.78 L129.32 35.8 L129.33 38.82 L129.31 41.84 L129.25 44.87 L129.18 47.89 L129.08 50.92 L128.97 53.94 L128.86 56.97 L128.75 60 L128.65 63.03 L128.56 66.06 L128.5 69.09 L128.45 72.13 L128.42 75.16 L128.41 78.19 L128.41 81.22 L128.43 84.26 L128.45 87.29 L128.47 90.32 L128.49 93.35 L128.5 96.39 L128.49 99.42 L128.46 102.45 L128.42 105.47 L128.35 108.5 L128.27 111.53 L128.18 114.55 L128.08 117.58 L127.99 120.6 L127.89 123.62 L127.82 126.64 L127.76 129.65 L127.73 132.67 M-0.21 11.83 L2.76 11.99 L5.73 12.15 L8.7 12.3 L11.67 12.44 L14.64 12.55 L17.61 12.64 L20.59 12.71 L23.56 12.74 L26.53 12.75 L29.5 12.72 L32.48 12.67 L35.46 12.6 L38.43 12.5 L41.42 12.39 L44.4 12.27 L47.38 12.14 L50.37 12.02 L53.36 11.9 L56.35 11.79 L59.34 11.7 L62.34 11.63 L65.34 11.57 L68.35 11.53 L71.35 11.51 L74.36 11.51 L77.38 11.52 L80.39 11.54 L83.41 11.57 L86.43 11.6 L89.46 11.63 L92.49 11.66 L95.52 11.68 L98.55 11.7 L101.59 11.7 L104.63 11.7 L107.67 11.69 L110.72 11.67 L113.77 11.65 L116.82 11.62 L119.87 11.6 L122.92 11.59 L125.98 11.58 L129.03 11.59 L132.09 11.61 M-0.65 24.3 L2.33 24.46 L5.31 24.6 L8.29 24.73 L11.28 24.84 L14.27 24.92 L17.26 24.98 L20.25 25 L23.24 25 L26.24 24.96 L29.24 24.89 L32.24 24.8 L35.24 24.69 L38.25 24.55 L41.26 24.41 L44.27 24.26 L47.29 24.1 L50.32 23.96 L53.35 23.83 L56.39 23.72 L59.43 23.64 L62.48 23.58 L65.53 23.55 L68.59 23.54 L71.64 23.56 L74.7 23.59 L77.75 23.64 L80.8 23.7 L83.85 23.76 L86.91 23.81 L89.96 23.86 L93.01 23.9 L96.06 23.93 L99.12 23.94 L102.17 23.94 L105.23 23.94 L108.29 23.92 L111.35 23.9 L114.41 23.88 L117.46 23.87 L120.52 23.85 L123.58 23.85 L126.63 23.86 L129.68 23.89 L132.73 23.93 M-0.82 36.76 L2.19 36.9 L5.21 37.03 L8.23 37.13 L11.25 37.2 L14.28 37.24 L17.3 37.25 L20.32 37.22 L23.34 37.16 L26.34 37.05 L29.34 36.9 L32.32 36.7 L35.31 36.47 L38.3 36.2 L41.31 35.92 L44.34 35.63 L47.41 35.37 L50.51 35.15 L53.64 34.97 L56.79 34.85 L59.94 34.79 L63.09 34.78 L66.23 34.81 L69.36 34.87 L72.48 34.97 L75.59 35.09 L78.67 35.23 L81.74 35.38 L84.79 35.53 L87.82 35.67 L90.84 35.81 L93.85 35.92 L96.85 36.01 L99.85 36.07 L102.86 36.11 L105.87 36.13 L108.88 36.14 L111.9 36.13 L114.93 36.12 L117.95 36.12 L120.97 36.12 L123.99 36.14 L127.01 36.17 L130.02 36.22 L133.03 36.28 M-0.48 49.2 L2.57 49.32 L5.62 49.41 L8.67 49.47 L11.71 49.5 L14.74 49.49 L17.75 49.44 L20.72 49.33 L23.64 49.16 L26.51 48.92 L29.35 48.6 L32.19 48.23 L35.06 47.82 L38.03 47.42 L41.12 47.07 L44.35 46.82 L47.67 46.71 L51.04 46.71 L54.4 46.83 L57.71 47 L60.94 47.21 L64.09 47.4 L67.19 47.55 L70.25 47.66 L73.31 47.73 L76.37 47.77 L79.44 47.78 L82.51 47.79 L85.58 47.81 L88.62 47.85 L91.63 47.91 L94.59 47.99 L97.52 48.07 L100.42 48.15 L103.32 48.23 L106.21 48.28 L109.12 48.32 L112.05 48.35 L114.99 48.36 L117.95 48.38 L120.92 48.41 L123.89 48.45 L126.87 48.5 L129.85 48.56 L132.82 48.64 M0.17 61.61 L3.22 61.69 L6.27 61.74 L9.3 61.76 L12.3 61.75 L15.26 61.68 L18.15 61.57 L20.94 61.39 L23.63 61.15 L26.25 60.83 L28.86 60.46 L31.59 60.08 L34.55 59.73 L37.83 59.48 L41.42 59.39 L45.22 59.49 L49.06 59.75 L52.77 60.12 L56.21 60.54 L59.37 60.93 L62.28 61.24 L65.02 61.46 L67.71 61.59 L70.41 61.65 L73.16 61.64 L76 61.58 L78.93 61.49 L81.94 61.36 L85.02 61.22 L88.13 61.07 L91.25 60.94 L94.33 60.82 L97.36 60.73 L100.31 60.67 L103.21 60.63 L106.07 60.62 L108.93 60.62 L111.79 60.63 L114.68 60.65 L117.59 60.68 L120.53 60.72 L123.48 60.78 L126.44 60.85 L129.41 60.93 L132.38 61.02 M0.63 73.97 L3.65 74.01 L6.66 74.03 L9.63 74 L12.56 73.95 L15.41 73.85 L18.15 73.72 L20.74 73.53 L23.19 73.3 L25.59 73.01 L28.08 72.7 L30.84 72.39 L34.05 72.13 L37.77 71.95 L41.9 71.9 L46.21 71.98 L50.38 72.16 L54.16 72.4 L57.44 72.64 L60.26 72.86 L62.77 73.04 L65.16 73.16 L67.57 73.25 L70.08 73.32 L72.71 73.38 L75.46 73.44 L78.31 73.5 L81.24 73.54 L84.24 73.56 L87.31 73.55 L90.4 73.5 L93.51 73.43 L96.58 73.34 L99.62 73.24 L102.6 73.14 L105.54 73.07 L108.46 73.02 L111.37 72.99 L114.3 73 L117.23 73.02 L120.19 73.07 L123.16 73.14 L126.14 73.22 L129.12 73.31 L132.11 73.41 M0.63 86.28 L3.61 86.28 L6.57 86.25 L9.51 86.2 L12.37 86.11 L15.14 85.99 L17.76 85.84 L20.21 85.66 L22.5 85.45 L24.74 85.2 L27.12 84.94 L29.89 84.67 L33.24 84.42 L37.24 84.23 L41.71 84.13 L46.35 84.11 L50.75 84.19 L54.61 84.32 L57.84 84.49 L60.51 84.66 L62.85 84.82 L65.08 84.95 L67.4 85.05 L69.87 85.14 L72.51 85.22 L75.29 85.28 L78.16 85.34 L81.1 85.4 L84.07 85.44 L87.08 85.46 L90.1 85.47 L93.13 85.46 L96.16 85.42 L99.19 85.38 L102.19 85.34 L105.19 85.3 L108.17 85.29 L111.16 85.29 L114.14 85.31 L117.13 85.36 L120.13 85.43 L123.13 85.51 L126.13 85.6 L129.14 85.7 L132.14 85.8 M0.32 98.53 L3.3 98.49 L6.25 98.43 L9.17 98.34 L12.02 98.23 L14.75 98.1 L17.32 97.95 L19.7 97.8 L21.9 97.64 L24.05 97.47 L26.37 97.31 L29.13 97.15 L32.56 97.02 L36.71 96.92 L41.42 96.86 L46.29 96.84 L50.89 96.87 L54.88 96.93 L58.15 97.02 L60.78 97.11 L63.05 97.2 L65.21 97.28 L67.46 97.35 L69.9 97.41 L72.53 97.46 L75.32 97.49 L78.21 97.51 L81.16 97.53 L84.15 97.54 L87.15 97.53 L90.15 97.53 L93.16 97.52 L96.17 97.51 L99.18 97.5 L102.18 97.5 L105.19 97.51 L108.19 97.54 L111.19 97.58 L114.19 97.64 L117.2 97.71 L120.2 97.79 L123.19 97.88 L126.19 97.98 L129.19 98.07 L132.19 98.17 M0.12 110.73 L3.1 110.66 L6.08 110.56 L9.02 110.45 L11.9 110.33 L14.68 110.22 L17.32 110.14 L19.78 110.1 L22.1 110.12 L24.36 110.23 L26.78 110.42 L29.58 110.66 L32.97 110.92 L37.01 111.14 L41.52 111.26 L46.19 111.24 L50.61 111.1 L54.5 110.87 L57.74 110.59 L60.42 110.32 L62.78 110.11 L65.04 109.95 L67.39 109.86 L69.89 109.81 L72.57 109.79 L75.38 109.78 L78.28 109.78 L81.23 109.78 L84.21 109.77 L87.2 109.76 L90.19 109.75 L93.18 109.75 L96.18 109.74 L99.17 109.75 L102.16 109.77 L105.14 109.81 L108.13 109.85 L111.11 109.91 L114.1 109.99 L117.08 110.07 L120.06 110.16 L123.04 110.26 L126.02 110.35 L129 110.44 L131.97 110.52 M0.16 122.88 L3.16 122.77 L6.16 122.65 L9.14 122.53 L12.1 122.41 L15 122.31 L17.84 122.25 L20.59 122.27 L23.28 122.4 L25.94 122.64 L28.67 122.99 L31.58 123.43 L34.75 123.88 L38.23 124.25 L41.92 124.46 L45.69 124.46 L49.33 124.25 L52.73 123.89 L55.83 123.46 L58.67 123.04 L61.36 122.68 L64 122.42 L66.68 122.25 L69.43 122.15 L72.26 122.09 L75.15 122.07 L78.09 122.05 L81.04 122.04 L84.01 122.03 L86.98 122.02 L89.95 122.01 L92.93 122.02 L95.9 122.03 L98.87 122.05 L101.84 122.08 L104.81 122.13 L107.79 122.19 L110.76 122.27 L113.73 122.35 L116.7 122.44 L119.68 122.53 L122.65 122.62 L125.63 122.71 L128.61 122.78 L131.59 122.83" stroke="#083a7c" stroke-width="0.95" fill="none" opacity="0.62"/>
<g transform="translate(235.7 19.5)">
<linearGradient id="gb" gradientUnits="userSpaceOnUse" x1="94.2" y1="0" x2="37.2" y2="0"><stop offset="0" stop-color="#083472" stop-opacity="0.34"/><stop offset="0.14" stop-color="#083472" stop-opacity="0.5"/><stop offset="0.45" stop-color="#083472" stop-opacity="0.74"/><stop offset="0.75" stop-color="#08326f" stop-opacity="0.88"/><stop offset="0.9" stop-color="#08316d" stop-opacity="0.96"/></linearGradient>
<path d="M94.6 74.76 L94.61 72.86 L94.61 71.01 L94.56 69.19 L94.42 67.39 L94.17 65.6 L93.78 63.84 L93.23 62.12 L92.5 60.47 L91.6 58.93 L90.59 57.45 L89.51 56.02 L88.36 54.64 L87.13 53.32 L85.81 52.08 L84.4 50.9 L82.91 49.82 L81.33 48.83 L79.67 47.95 L77.93 47.19 L76.12 46.56 L74.24 46.07 L72.3 45.74 L70.31 45.55 L68.21 45.44 L65.11 45.32 L62.75 45.32 L60.6 45.42 L58.57 45.64 L56.63 45.98 L54.77 46.46 L53 47.08 L51.31 47.84 L49.71 48.73 L48.18 49.7 L46.71 50.76 L45.32 51.92 L44 53.18 L42.77 54.54 L41.63 56.01 L40.58 57.57 L39.64 59.24 L38.81 61.01 L38.1 62.89 L37.52 64.86 L37.08 66.95 L36.79 69.18 L36.61 71.64 L36.42 74.75 L36.23 77.39 L36.04 79.99 L35.88 82.58 L35.8 85.17 L35.8 87.77 L35.79 90.36 L35.79 92.96 L35.78 95.55 L35.76 98.14 L35.75 100.74 L35.74 103.33 L35.73 105.92 L35.72 108.52 L35.71 111.11 L35.7 113.71 L35.7 116.3 L35.96 118.24 L36.7 120.05 L37.9 121.6 L39.45 122.8 L41.26 123.54 L43.2 123.8 L45.14 123.54 L46.95 122.8 L48.5 121.6 L49.7 120.05 L50.44 118.24 L50.7 116.3 L50.7 113.71 L50.69 111.11 L50.68 108.52 L50.67 105.92 L50.66 103.33 L50.65 100.74 L50.64 98.14 L50.62 95.55 L50.61 92.96 L50.61 90.36 L50.6 87.77 L50.6 85.17 L50.52 82.58 L50.36 79.99 L50.17 77.39 L49.98 74.85 L49.87 72.08 L49.94 70.29 L50.08 68.77 L50.22 67.42 L50.39 66.19 L50.6 65.05 L50.85 63.99 L51.15 62.99 L51.51 62.06 L51.93 61.18 L52.42 60.35 L52.98 59.58 L53.62 58.86 L54.34 58.2 L55.15 57.61 L56.06 57.09 L57.03 56.61 L58.09 56.15 L59.24 55.71 L60.51 55.3 L61.93 54.94 L63.53 54.62 L65.41 54.36 L68.19 54.16 L69.82 54.15 L71.29 54.27 L72.7 54.44 L74.08 54.66 L75.43 54.94 L76.76 55.28 L78.06 55.69 L79.33 56.18 L80.57 56.75 L81.76 57.42 L82.9 58.17 L83.98 59.02 L84.99 59.96 L85.92 60.99 L86.74 62.11 L87.5 63.29 L88.25 64.49 L88.99 65.73 L89.7 67.04 L90.36 68.41 L90.93 69.86 L91.38 71.4 L91.68 73.02 L91.8 74.84Z" fill="url(#gb)" filter="url(#b1)"/>
<path d="M93.2 110.5 V72" stroke="#4f93cc" stroke-width="1" opacity="0.22" fill="none"/>
<path d="M93.2 112.3 V98.5" stroke="#d8e8f6" stroke-width="0.85" stroke-dasharray="1.3 1.0" opacity="0.62" fill="none"/>
</g>
<rect x="236.07" y="20.11" width="131.83" height="131.39" filter="url(#nzb)" opacity="0.4"/>
</g>
<rect x="235.7" y="19.5" width="132.2" height="132" fill="none" stroke="#222" stroke-width="0.35"/>
<path d="M235.7 151.5 v1.5 M235.7 19.5 h-1.5 M252.22 151.5 v1.5 M235.7 36 h-1.5 M268.75 151.5 v1.5 M235.7 52.5 h-1.5 M285.27 151.5 v1.5 M235.7 69 h-1.5 M301.8 151.5 v1.5 M235.7 85.5 h-1.5 M318.32 151.5 v1.5 M235.7 102 h-1.5 M334.85 151.5 v1.5 M235.7 118.5 h-1.5 M351.38 151.5 v1.5 M235.7 135 h-1.5 M367.9 151.5 v1.5 M235.7 151.5 h-1.5" stroke="#222" stroke-width="0.4" fill="none"/>
<g class="s" font-size="5.2" fill="#222">
<text x="235.7" y="158.2" text-anchor="middle">−<tspan dx="-0.45">0.8</tspan></text>
<text x="252.22" y="158.2" text-anchor="middle">−<tspan dx="-0.45">0.6</tspan></text>
<text x="268.75" y="158.2" text-anchor="middle">−<tspan dx="-0.45">0.4</tspan></text>
<text x="285.27" y="158.2" text-anchor="middle">−<tspan dx="-0.45">0.2</tspan></text>
<text x="301.8" y="158.2" text-anchor="middle">0.0</text>
<text x="318.32" y="158.2" text-anchor="middle">0.2</text>
<text x="334.85" y="158.2" text-anchor="middle">0.4</text>
<text x="351.38" y="158.2" text-anchor="middle">0.6</text>
<text x="367.9" y="158.2" text-anchor="middle">0.8</text>
<text x="233.1" y="21.4" text-anchor="end">0.6</text>
<text x="233.1" y="37.9" text-anchor="end">0.4</text>
<text x="233.1" y="54.4" text-anchor="end">0.2</text>
<text x="233.1" y="70.9" text-anchor="end">0.0</text>
<text x="233.1" y="87.4" text-anchor="end">−<tspan dx="-0.45">0.2</tspan></text>
<text x="233.1" y="103.9" text-anchor="end">−<tspan dx="-0.45">0.4</tspan></text>
<text x="233.1" y="120.4" text-anchor="end">−<tspan dx="-0.45">0.6</tspan></text>
<text x="233.1" y="136.9" text-anchor="end">−<tspan dx="-0.45">0.8</tspan></text>
<text x="233.1" y="153.4" text-anchor="end">−<tspan dx="-0.45">1.0</tspan></text>
</g>
<text class="t" x="302.1" y="166.45" text-anchor="middle" font-size="8.2" font-weight="bold" fill="#111"><tspan font-style="italic">x</tspan> (mm)</text>
<text class="t" transform="translate(218.7 86.8) rotate(-90)" text-anchor="middle" font-size="8.2" font-weight="bold" fill="#111"><tspan font-style="italic">y</tspan> (mm)</text>
<text class="t" x="301.5" y="13.2" text-anchor="middle" font-size="13.6" fill="#000">−100 kA</text>
<text class="t" x="352.7" y="40.65" text-anchor="middle" font-size="15" fill="#fff" stroke="#fff" stroke-width="0.15">(b)</text>
<g transform="translate(235.7 19.5)">
<path d="M79.5 94.7 L71.76 79.46" stroke="#fff" stroke-width="1.25" fill="none"/>
<path d="M69.9 75.8 L73.54 79.11 L70.42 80.69 Z" fill="#fff"/>
<text class="t" x="72.7" y="112.3" text-anchor="middle" font-size="9.05" fill="#fff">Rotation</text>
</g>
<rect x="376.3" y="3.3" width="8.2" height="163.8" fill="url(#cb)" stroke="#909090" stroke-width="0.8"/>
<g class="s" font-size="5.2" fill="#222">
<text x="387" y="169.1">0</text>
<text x="387" y="153.04">2</text>
<text x="387" y="136.98">4</text>
<text x="387" y="120.92">6</text>
<text x="387" y="104.86">8</text>
<text x="387" y="88.81">10</text>
<text x="387" y="72.75">12</text>
<text x="387" y="56.69">14</text>
<text x="387" y="40.63">16</text>
<text x="387" y="24.57">18</text>
</g>
<path d="M384.8 167.1 h1.4 M384.8 151.04 h1.4 M384.8 134.98 h1.4 M384.8 118.92 h1.4 M384.8 102.86 h1.4 M384.8 86.81 h1.4 M384.8 70.75 h1.4 M384.8 54.69 h1.4 M384.8 38.63 h1.4 M384.8 22.57 h1.4" stroke="#222" stroke-width="0.4" fill="none"/>
<text class="s" transform="translate(398.5 86.2) rotate(-90)" text-anchor="middle" font-size="5.2" fill="#333">Intensity</text>
</g>
<g id="panel-c">
<clipPath id="cp2"><rect x="445.2" y="19.5" width="132.2" height="132"/></clipPath>
<rect x="445.2" y="19.5" width="132.2" height="132" fill="#0b4f9d"/>
<g clip-path="url(#cp2)">
<rect x="445.2" y="19.5" width="132.2" height="132" filter="url(#ndc)"/>
<rect x="445.2" y="19.5" width="132.2" height="132" filter="url(#nzc)"/>
<path transform="translate(445.2 19.5)" d="M5.1 0.18 L5.08 3.2 L5.08 6.21 L5.09 9.22 L5.12 12.23 L5.17 15.25 L5.23 18.26 L5.29 21.27 L5.35 24.29 L5.41 27.3 L5.46 30.31 L5.48 33.32 L5.49 36.34 L5.47 39.35 L5.41 42.36 L5.34 45.37 L5.23 48.38 L5.1 51.39 L4.95 54.39 L4.8 57.4 L4.64 60.41 L4.48 63.41 L4.34 66.42 L4.22 69.42 L4.12 72.42 L4.06 75.42 L4.03 78.41 L4.03 81.41 L4.07 84.41 L4.14 87.4 L4.23 90.39 L4.34 93.38 L4.47 96.37 L4.59 99.35 L4.72 102.34 L4.83 105.32 L4.93 108.3 L5.01 111.28 L5.07 114.26 L5.11 117.23 L5.12 120.21 L5.12 123.18 L5.1 126.15 L5.07 129.12 L5.05 132.09 M17.45 0.38 L17.45 3.39 L17.46 6.4 L17.49 9.42 L17.54 12.43 L17.59 15.44 L17.65 18.45 L17.71 21.46 L17.77 24.46 L17.81 27.47 L17.83 30.47 L17.82 33.47 L17.79 36.47 L17.74 39.47 L17.65 42.47 L17.54 45.46 L17.41 48.46 L17.26 51.45 L17.1 54.44 L16.94 57.43 L16.79 60.41 L16.65 63.39 L16.54 66.38 L16.45 69.36 L16.4 72.33 L16.38 75.31 L16.4 78.29 L16.44 81.26 L16.52 84.23 L16.62 87.2 L16.74 90.17 L16.87 93.13 L17 96.1 L17.12 99.06 L17.24 102.03 L17.33 104.99 L17.41 107.95 L17.46 110.91 L17.49 113.88 L17.5 116.84 L17.5 119.8 L17.48 122.76 L17.45 125.72 L17.42 128.68 L17.4 131.64 M29.81 0.53 L29.83 3.52 L29.86 6.52 L29.9 9.51 L29.96 12.51 L30.02 15.5 L30.07 18.48 L30.12 21.47 L30.15 24.45 L30.17 27.43 L30.16 30.41 L30.12 33.39 L30.06 36.37 L29.96 39.34 L29.85 42.31 L29.71 45.28 L29.56 48.25 L29.4 51.22 L29.25 54.18 L29.1 57.14 L28.97 60.11 L28.86 63.07 L28.79 66.03 L28.74 68.99 L28.74 71.95 L28.76 74.91 L28.82 77.86 L28.91 80.82 L29.01 83.78 L29.14 86.74 L29.27 89.7 L29.4 92.66 L29.53 95.61 L29.64 98.58 L29.73 101.54 L29.81 104.5 L29.85 107.46 L29.88 110.43 L29.89 113.4 L29.88 116.36 L29.85 119.34 L29.82 122.31 L29.79 125.28 L29.77 128.26 L29.75 131.24 M42.19 0.39 L42.23 3.36 L42.27 6.33 L42.32 9.3 L42.38 12.26 L42.43 15.23 L42.47 18.19 L42.5 21.15 L42.51 24.11 L42.49 27.07 L42.45 30.03 L42.37 32.98 L42.28 35.94 L42.15 38.9 L42.01 41.85 L41.86 44.81 L41.71 47.76 L41.55 50.72 L41.41 53.67 L41.29 56.63 L41.19 59.59 L41.13 62.55 L41.09 65.51 L41.1 68.47 L41.13 71.43 L41.2 74.4 L41.29 77.36 L41.41 80.33 L41.54 83.3 L41.67 86.28 L41.81 89.25 L41.93 92.23 L42.04 95.21 L42.13 98.2 L42.2 101.18 L42.25 104.17 L42.27 107.16 L42.27 110.16 L42.26 113.16 L42.23 116.16 L42.2 119.17 L42.17 122.17 L42.14 125.19 L42.13 128.2 L42.13 131.22 M54.59 -0.07 L54.63 2.88 L54.68 5.84 L54.74 8.79 L54.78 11.74 L54.82 14.7 L54.84 17.65 L54.85 20.61 L54.82 23.56 L54.77 26.52 L54.69 29.48 L54.59 32.44 L54.46 35.4 L54.32 38.37 L54.17 41.34 L54.01 44.3 L53.86 47.27 L53.73 50.25 L53.61 53.22 L53.53 56.2 L53.47 59.18 L53.45 62.17 L53.46 65.16 L53.51 68.15 L53.58 71.14 L53.69 74.14 L53.81 77.14 L53.94 80.14 L54.08 83.15 L54.21 86.16 L54.34 89.17 L54.45 92.19 L54.53 95.21 L54.6 98.23 L54.64 101.26 L54.65 104.29 L54.65 107.32 L54.63 110.35 L54.6 113.39 L54.57 116.43 L54.54 119.47 L54.51 122.51 L54.5 125.56 L54.5 128.61 L54.52 131.65 M66.99 -0.62 L67.04 2.34 L67.09 5.31 L67.14 8.28 L67.17 11.25 L67.19 14.22 L67.18 17.2 L67.15 20.18 L67.09 23.16 L67.01 26.15 L66.9 29.14 L66.77 32.13 L66.62 35.12 L66.47 38.12 L66.32 41.12 L66.18 44.13 L66.05 47.14 L65.94 50.15 L65.86 53.16 L65.82 56.18 L65.8 59.2 L65.83 62.23 L65.89 65.26 L65.97 68.29 L66.08 71.32 L66.21 74.36 L66.35 77.39 L66.49 80.43 L66.62 83.48 L66.74 86.52 L66.85 89.57 L66.93 92.62 L66.99 95.67 L67.03 98.72 L67.04 101.77 L67.03 104.82 L67.01 107.88 L66.98 110.93 L66.94 113.99 L66.91 117.04 L66.88 120.09 L66.87 123.15 L66.87 126.2 L66.89 129.25 L66.92 132.31 M79.4 -0.89 L79.45 2.11 L79.49 5.11 L79.52 8.12 L79.52 11.13 L79.51 14.14 L79.47 17.16 L79.41 20.18 L79.32 23.2 L79.21 26.23 L79.07 29.26 L78.93 32.29 L78.78 35.33 L78.63 38.36 L78.49 41.4 L78.37 44.44 L78.27 47.49 L78.2 50.53 L78.17 53.58 L78.17 56.63 L78.2 59.68 L78.27 62.73 L78.36 65.79 L78.48 68.84 L78.61 71.89 L78.76 74.95 L78.9 78 L79.03 81.06 L79.15 84.11 L79.25 87.16 L79.33 90.21 L79.38 93.27 L79.41 96.32 L79.42 99.37 L79.41 102.41 L79.38 105.46 L79.35 108.5 L79.31 111.54 L79.28 114.58 L79.25 117.62 L79.24 120.65 L79.24 123.69 L79.26 126.72 L79.3 129.74 L79.34 132.77 M91.8 -0.66 L91.84 2.37 L91.86 5.41 L91.86 8.46 L91.84 11.5 L91.8 14.55 L91.73 17.6 L91.63 20.65 L91.52 23.7 L91.38 26.75 L91.24 29.8 L91.09 32.85 L90.94 35.91 L90.81 38.96 L90.69 42.02 L90.6 45.07 L90.55 48.12 L90.52 51.17 L90.53 54.23 L90.58 57.28 L90.65 60.32 L90.76 63.37 L90.88 66.42 L91.02 69.46 L91.17 72.5 L91.31 75.54 L91.44 78.58 L91.56 81.62 L91.66 84.65 L91.73 87.68 L91.78 90.71 L91.8 93.73 L91.8 96.75 L91.79 99.77 L91.76 102.79 L91.72 105.8 L91.68 108.81 L91.64 111.81 L91.62 114.82 L91.6 117.82 L91.61 120.81 L91.63 123.81 L91.66 126.8 L91.71 129.79 L91.77 132.77 M104.18 -0.08 L104.2 2.98 L104.2 6.03 L104.17 9.08 L104.12 12.13 L104.05 15.18 L103.95 18.23 L103.83 21.28 L103.69 24.33 L103.54 27.38 L103.4 30.42 L103.25 33.46 L103.13 36.5 L103.02 39.54 L102.94 42.58 L102.89 45.61 L102.88 48.64 L102.9 51.67 L102.96 54.69 L103.04 57.71 L103.16 60.73 L103.29 63.75 L103.43 66.76 L103.58 69.77 L103.72 72.78 L103.85 75.79 L103.96 78.79 L104.06 81.79 L104.13 84.78 L104.17 87.78 L104.19 90.77 L104.18 93.75 L104.16 96.74 L104.13 99.72 L104.09 102.7 L104.04 105.68 L104.01 108.65 L103.98 111.62 L103.97 114.6 L103.98 117.57 L104 120.53 L104.03 123.5 L104.08 126.46 L104.14 129.43 L104.2 132.39 M116.54 0.5 L116.53 3.53 L116.5 6.56 L116.44 9.6 L116.36 12.62 L116.26 15.65 L116.13 18.67 L116 21.69 L115.85 24.71 L115.71 27.73 L115.57 30.74 L115.45 33.75 L115.35 36.75 L115.28 39.75 L115.25 42.76 L115.24 45.75 L115.28 48.75 L115.34 51.74 L115.44 54.73 L115.56 57.72 L115.69 60.7 L115.84 63.68 L115.99 66.66 L116.13 69.64 L116.26 72.61 L116.37 75.59 L116.46 78.56 L116.52 81.53 L116.56 84.5 L116.57 87.47 L116.56 90.43 L116.53 93.4 L116.5 96.36 L116.45 99.33 L116.41 102.29 L116.37 105.26 L116.35 108.22 L116.34 111.18 L116.34 114.15 L116.36 117.11 L116.4 120.07 L116.45 123.04 L116.5 126 L116.56 128.97 L116.61 131.93 M128.86 0.72 L128.83 3.72 L128.76 6.72 L128.68 9.71 L128.57 12.71 L128.44 15.7 L128.31 18.69 L128.16 21.67 L128.02 24.66 L127.89 27.64 L127.78 30.62 L127.69 33.6 L127.63 36.58 L127.6 39.55 L127.61 42.52 L127.65 45.5 L127.73 48.47 L127.83 51.44 L127.96 54.4 L128.1 57.37 L128.25 60.34 L128.4 63.31 L128.54 66.27 L128.67 69.24 L128.78 72.2 L128.86 75.17 L128.91 78.14 L128.94 81.1 L128.95 84.07 L128.94 87.04 L128.9 90.01 L128.86 92.98 L128.82 95.95 L128.77 98.92 L128.73 101.89 L128.71 104.86 L128.7 107.84 L128.7 110.81 L128.73 113.79 L128.76 116.77 L128.81 119.75 L128.86 122.73 L128.92 125.72 L128.96 128.7 L129 131.69 M0.21 12.08 L3.22 12.11 L6.24 12.15 L9.25 12.19 L12.27 12.24 L15.29 12.29 L18.31 12.34 L21.33 12.38 L24.35 12.4 L27.36 12.41 L30.38 12.4 L33.4 12.37 L36.42 12.33 L39.44 12.25 L42.46 12.16 L45.48 12.05 L48.49 11.93 L51.51 11.8 L54.52 11.66 L57.54 11.52 L60.55 11.39 L63.56 11.27 L66.57 11.17 L69.58 11.09 L72.58 11.04 L75.58 11.01 L78.58 11.02 L81.58 11.06 L84.58 11.13 L87.57 11.22 L90.57 11.34 L93.56 11.48 L96.54 11.63 L99.53 11.79 L102.51 11.95 L105.49 12.1 L108.47 12.24 L111.45 12.37 L114.42 12.47 L117.39 12.55 L120.36 12.6 L123.33 12.63 L126.3 12.63 L129.26 12.6 L132.22 12.55 M0.43 24.37 L3.45 24.41 L6.47 24.45 L9.49 24.5 L12.51 24.55 L15.52 24.59 L18.54 24.62 L21.55 24.64 L24.56 24.64 L27.57 24.63 L30.58 24.6 L33.59 24.54 L36.59 24.46 L39.59 24.37 L42.59 24.25 L45.59 24.13 L48.58 24 L51.57 23.86 L54.56 23.72 L57.55 23.6 L60.53 23.48 L63.51 23.39 L66.49 23.32 L69.47 23.28 L72.44 23.27 L75.41 23.29 L78.38 23.33 L81.35 23.41 L84.32 23.52 L87.28 23.64 L90.24 23.78 L93.21 23.94 L96.17 24.1 L99.12 24.26 L102.08 24.41 L105.04 24.54 L108 24.66 L110.95 24.76 L113.91 24.83 L116.87 24.87 L119.82 24.89 L122.78 24.88 L125.74 24.85 L128.7 24.79 L131.66 24.72 M0.6 36.67 L3.6 36.71 L6.59 36.75 L9.59 36.8 L12.58 36.83 L15.57 36.86 L18.55 36.88 L21.53 36.87 L24.51 36.85 L27.49 36.81 L30.47 36.75 L33.44 36.67 L36.41 36.57 L39.38 36.46 L42.34 36.33 L45.31 36.2 L48.27 36.06 L51.23 35.93 L54.19 35.81 L57.15 35.7 L60.1 35.62 L63.06 35.56 L66.01 35.53 L68.97 35.52 L71.92 35.55 L74.88 35.61 L77.83 35.7 L80.79 35.81 L83.74 35.94 L86.7 36.09 L89.66 36.25 L92.62 36.41 L95.58 36.56 L98.54 36.71 L101.51 36.84 L104.47 36.96 L107.44 37.04 L110.42 37.11 L113.39 37.14 L116.37 37.15 L119.35 37.13 L122.34 37.09 L125.32 37.03 L128.32 36.95 L131.31 36.86 M0.37 48.96 L3.33 49 L6.3 49.04 L9.26 49.08 L12.22 49.1 L15.17 49.11 L18.13 49.1 L21.08 49.08 L24.04 49.03 L26.99 48.96 L29.94 48.88 L32.9 48.78 L35.85 48.66 L38.8 48.53 L41.75 48.4 L44.71 48.27 L47.66 48.14 L50.62 48.02 L53.58 47.93 L56.54 47.85 L59.5 47.8 L62.46 47.78 L65.43 47.78 L68.4 47.82 L71.37 47.89 L74.34 47.99 L77.32 48.11 L80.3 48.24 L83.28 48.4 L86.27 48.56 L89.26 48.72 L92.25 48.87 L95.25 49.01 L98.25 49.14 L101.26 49.25 L104.26 49.33 L107.28 49.38 L110.29 49.41 L113.31 49.41 L116.33 49.38 L119.36 49.33 L122.39 49.27 L125.42 49.18 L128.45 49.09 L131.49 48.99 M-0.23 61.25 L2.73 61.29 L5.68 61.32 L8.63 61.34 L11.59 61.34 L14.54 61.33 L17.5 61.3 L20.46 61.25 L23.42 61.17 L26.39 61.09 L29.36 60.98 L32.33 60.86 L35.3 60.73 L38.27 60.6 L41.25 60.47 L44.23 60.35 L47.22 60.24 L50.21 60.15 L53.2 60.08 L56.2 60.04 L59.2 60.03 L62.2 60.05 L65.21 60.1 L68.22 60.18 L71.23 60.28 L74.25 60.41 L77.27 60.55 L80.29 60.7 L83.32 60.86 L86.35 61.02 L89.39 61.18 L92.42 61.32 L95.46 61.44 L98.5 61.54 L101.55 61.61 L104.59 61.66 L107.64 61.67 L110.69 61.66 L113.74 61.63 L116.79 61.57 L119.84 61.5 L122.9 61.41 L125.95 61.31 L129 61.21 L132.06 61.1 M-0.76 73.53 L2.21 73.56 L5.19 73.57 L8.18 73.57 L11.17 73.55 L14.16 73.52 L17.15 73.46 L20.15 73.38 L23.15 73.29 L26.16 73.18 L29.17 73.06 L32.18 72.94 L35.2 72.81 L38.22 72.68 L41.24 72.57 L44.27 72.46 L47.29 72.38 L50.33 72.32 L53.36 72.29 L56.4 72.29 L59.44 72.32 L62.48 72.38 L65.52 72.46 L68.57 72.57 L71.61 72.71 L74.66 72.85 L77.71 73.01 L80.76 73.17 L83.81 73.33 L86.87 73.48 L89.92 73.62 L92.97 73.73 L96.02 73.82 L99.07 73.89 L102.12 73.93 L105.17 73.93 L108.22 73.92 L111.27 73.87 L114.31 73.81 L117.36 73.72 L120.4 73.63 L123.44 73.53 L126.48 73.42 L129.51 73.32 L132.55 73.22 M-0.83 85.8 L2.19 85.8 L5.22 85.8 L8.24 85.78 L11.27 85.73 L14.3 85.67 L17.34 85.59 L20.38 85.5 L23.42 85.39 L26.46 85.27 L29.5 85.14 L32.55 85.02 L35.59 84.89 L38.64 84.78 L41.69 84.69 L44.74 84.61 L47.78 84.57 L50.83 84.54 L53.88 84.55 L56.93 84.59 L59.98 84.66 L63.03 84.75 L66.07 84.87 L69.12 85.01 L72.16 85.16 L75.21 85.32 L78.25 85.48 L81.29 85.64 L84.33 85.79 L87.36 85.92 L90.4 86.02 L93.43 86.11 L96.46 86.16 L99.49 86.19 L102.51 86.19 L105.54 86.16 L108.56 86.11 L111.58 86.04 L114.59 85.95 L117.61 85.85 L120.62 85.74 L123.63 85.63 L126.64 85.53 L129.64 85.43 L132.65 85.35 M-0.43 98.03 L2.62 98.02 L5.66 98 L8.71 97.95 L11.75 97.89 L14.8 97.8 L17.84 97.7 L20.89 97.59 L23.93 97.47 L26.98 97.35 L30.02 97.23 L33.06 97.11 L36.1 97 L39.14 96.92 L42.18 96.85 L45.21 96.81 L48.25 96.8 L51.28 96.82 L54.31 96.87 L57.34 96.94 L60.36 97.05 L63.39 97.17 L66.41 97.31 L69.43 97.47 L72.45 97.63 L75.46 97.79 L78.48 97.95 L81.49 98.09 L84.5 98.21 L87.51 98.31 L90.51 98.39 L93.52 98.44 L96.52 98.45 L99.52 98.44 L102.52 98.41 L105.52 98.35 L108.52 98.27 L111.51 98.17 L114.51 98.07 L117.51 97.96 L120.5 97.85 L123.5 97.74 L126.49 97.65 L129.48 97.56 L132.48 97.49 M0.04 110.25 L3.07 110.22 L6.1 110.17 L9.14 110.1 L12.17 110.01 L15.19 109.91 L18.22 109.8 L21.24 109.68 L24.26 109.56 L27.28 109.44 L30.3 109.33 L33.32 109.23 L36.33 109.15 L39.34 109.09 L42.36 109.06 L45.36 109.06 L48.37 109.09 L51.38 109.14 L54.38 109.23 L57.39 109.34 L60.39 109.47 L63.39 109.62 L66.39 109.78 L69.39 109.94 L72.39 110.1 L75.39 110.25 L78.38 110.39 L81.38 110.51 L84.38 110.6 L87.38 110.67 L90.37 110.7 L93.37 110.71 L96.37 110.69 L99.37 110.65 L102.37 110.58 L105.37 110.49 L108.37 110.39 L111.37 110.28 L114.37 110.17 L117.37 110.06 L120.38 109.95 L123.38 109.86 L126.39 109.78 L129.4 109.71 L132.4 109.66 M0.21 122.44 L3.22 122.38 L6.23 122.31 L9.24 122.22 L12.24 122.12 L15.25 122.01 L18.25 121.89 L21.25 121.77 L24.26 121.65 L27.26 121.55 L30.26 121.45 L33.26 121.38 L36.26 121.34 L39.26 121.31 L42.26 121.32 L45.26 121.36 L48.26 121.43 L51.26 121.52 L54.26 121.64 L57.26 121.78 L60.26 121.93 L63.27 122.09 L66.27 122.25 L69.28 122.41 L72.28 122.56 L75.29 122.69 L78.29 122.8 L81.3 122.88 L84.31 122.94 L87.32 122.97 L90.33 122.97 L93.35 122.94 L96.36 122.89 L99.37 122.81 L102.39 122.72 L105.4 122.61 L108.42 122.5 L111.44 122.38 L114.46 122.27 L117.47 122.16 L120.49 122.07 L123.51 121.99 L126.53 121.93 L129.55 121.88 L132.56 121.85" stroke="#083a7c" stroke-width="0.95" fill="none" opacity="0.78"/>
<g transform="translate(445.2 19.5)">
<linearGradient id="gc" gradientUnits="userSpaceOnUse" x1="0" y1="44" x2="0" y2="75"><stop offset="0" stop-color="#083878" stop-opacity="0.44"/><stop offset="1" stop-color="#083878" stop-opacity="0.6"/></linearGradient>
<path d="M36.3 120 L36.3 117.82 L36.3 114.81 L36.29 111.25 L36.29 107.41 L36.28 103.56 L36.27 100 L36.26 96.58 L36.25 93.04 L36.23 89.5 L36.22 86.07 L36.22 82.87 L36.22 80 L36.2 77.48 L36.17 75.18 L36.14 73.07 L36.14 71.12 L36.19 69.31 L36.32 67.66 L36.5 66.28 L36.74 65.12 L37.11 64 L37.61 63.04 L38.11 62.26 L38.71 61.36 L39.55 60.21 L40.57 58.97 L41.65 57.73 L42.75 56.5 L43.81 55.34 L44.76 54.26 L45.66 53.19 L46.58 52.08 L47.51 50.96 L48.42 49.88 L49.32 48.86 L50.16 47.97 L50.87 47.27 L51.49 46.66 L52.19 46.05 L53.04 45.46 L54 44.95 L55.1 44.56 L56.31 44.28 L57.53 44.15 L58.71 44.09 L59.84 44.09 L60.91 44.09 L61.94 44.08 L63.01 44.06 L64.13 44.06 L65.24 44.07 L66.34 44.08 L67.43 44.1 L68.5 44.1 L69.57 44.09 L70.66 44.08 L71.76 44.06 L72.87 44.05 L73.99 44.05 L75.06 44.07 L76.07 44.07 L77.14 44.06 L78.27 44.06 L79.47 44.11 L80.73 44.25 L82.01 44.57 L83.19 45.07 L84.2 45.69 L85.01 46.37 L85.66 47.02 L86.22 47.61 L86.86 48.26 L87.67 49.1 L88.56 50.08 L89.48 51.11 L90.39 52.15 L91.24 53.13 L92 53.99 L92.68 54.73 L93.37 55.44 L94.07 56.16 L94.77 56.91 L95.46 57.73 L96.01 58.47 L96.32 58.87 L96.63 59.19 L97.28 60.03 L97.85 61.26 L98.18 62.6 L98.39 64.21 L98.51 66.24 L98.55 68.62 L98.55 71.26 L98.53 74.1 L98.49 77.04 L98.48 80 L98.48 83.08 L98.47 86.37 L98.46 89.78 L98.45 93.24 L98.44 96.67 L98.43 100 L98.42 103.44 L98.41 107.11 L98.41 110.75 L98.4 114.11 L98.4 116.94 L98.4 119 L98.29 119.85 L97.96 120.65 L97.43 121.33 L96.75 121.86 L95.95 122.19 L95.1 122.3 L94.25 122.19 L93.45 121.86 L92.77 121.33 L92.24 120.65 L91.91 119.85 L91.8 119 L91.8 116.94 L91.8 114.11 L91.79 110.75 L91.79 107.11 L91.78 103.44 L91.77 100 L91.76 96.67 L91.76 93.24 L91.75 89.78 L91.74 86.37 L91.73 83.09 L91.72 80 L91.72 77 L91.74 74.05 L91.76 71.24 L91.76 68.68 L91.71 66.49 L91.61 64.79 L91.48 63.74 L91.4 63.39 L91.49 63.57 L91.53 63.67 L91.13 63.23 L90.59 62.53 L90.14 61.9 L89.7 61.37 L89.15 60.75 L88.5 60.06 L87.77 59.28 L87 58.41 L86.2 57.47 L85.35 56.45 L84.48 55.41 L83.64 54.41 L82.86 53.51 L82.14 52.74 L81.49 52.04 L80.97 51.45 L80.61 51.07 L80.39 50.86 L80.23 50.74 L79.99 50.63 L79.57 50.51 L78.94 50.43 L78.1 50.38 L77.12 50.36 L76.04 50.36 L74.94 50.33 L73.9 50.3 L72.87 50.29 L71.8 50.29 L70.71 50.29 L69.61 50.3 L68.5 50.3 L67.39 50.3 L66.29 50.29 L65.2 50.28 L64.13 50.28 L63.1 50.29 L62.06 50.32 L60.97 50.34 L59.9 50.36 L58.91 50.38 L58.06 50.43 L57.39 50.52 L56.9 50.64 L56.58 50.77 L56.39 50.89 L56.21 51.03 L55.91 51.31 L55.44 51.79 L54.84 52.43 L54.15 53.18 L53.41 54.07 L52.58 55.1 L51.7 56.22 L50.78 57.38 L49.84 58.54 L48.84 59.73 L47.77 60.95 L46.72 62.16 L45.75 63.31 L44.93 64.33 L44.29 65.24 L43.79 65.99 L43.47 66.48 L43.37 66.66 L43.32 66.83 L43.21 67.36 L43.08 68.34 L42.98 69.66 L42.93 71.21 L42.93 73.02 L42.95 75.1 L42.98 77.43 L42.98 80 L42.97 82.87 L42.96 86.07 L42.95 89.5 L42.95 93.03 L42.94 96.57 L42.93 100 L42.92 103.56 L42.91 107.41 L42.91 111.25 L42.9 114.81 L42.9 117.82 L42.9 120 L42.79 120.85 L42.46 121.65 L41.93 122.33 L41.25 122.86 L40.45 123.19 L39.6 123.3 L38.75 123.19 L37.95 122.86 L37.27 122.33 L36.74 121.65 L36.41 120.85Z" fill="url(#gc)" filter="url(#b1)"/>
</g>
<rect x="445.57" y="20.11" width="131.83" height="131.39" filter="url(#nzc)" opacity="0.4"/>
</g>
<rect x="445.2" y="19.5" width="132.2" height="132" fill="none" stroke="#222" stroke-width="0.35"/>
<path d="M445.2 151.5 v1.5 M445.2 19.5 h-1.5 M461.72 151.5 v1.5 M445.2 36 h-1.5 M478.25 151.5 v1.5 M445.2 52.5 h-1.5 M494.77 151.5 v1.5 M445.2 69 h-1.5 M511.3 151.5 v1.5 M445.2 85.5 h-1.5 M527.83 151.5 v1.5 M445.2 102 h-1.5 M544.35 151.5 v1.5 M445.2 118.5 h-1.5 M560.88 151.5 v1.5 M445.2 135 h-1.5 M577.4 151.5 v1.5 M445.2 151.5 h-1.5" stroke="#222" stroke-width="0.4" fill="none"/>
<g class="s" font-size="5.2" fill="#222">
<text x="445.2" y="158.2" text-anchor="middle">−<tspan dx="-0.45">0.8</tspan></text>
<text x="461.72" y="158.2" text-anchor="middle">−<tspan dx="-0.45">0.6</tspan></text>
<text x="478.25" y="158.2" text-anchor="middle">−<tspan dx="-0.45">0.4</tspan></text>
<text x="494.77" y="158.2" text-anchor="middle">−<tspan dx="-0.45">0.2</tspan></text>
<text x="511.3" y="158.2" text-anchor="middle">0.0</text>
<text x="527.83" y="158.2" text-anchor="middle">0.2</text>
<text x="544.35" y="158.2" text-anchor="middle">0.4</text>
<text x="560.88" y="158.2" text-anchor="middle">0.6</text>
<text x="577.4" y="158.2" text-anchor="middle">0.8</text>
<text x="442.6" y="21.4" text-anchor="end">0.6</text>
<text x="442.6" y="37.9" text-anchor="end">0.4</text>
<text x="442.6" y="54.4" text-anchor="end">0.2</text>
<text x="442.6" y="70.9" text-anchor="end">0.0</text>
<text x="442.6" y="87.4" text-anchor="end">−<tspan dx="-0.45">0.2</tspan></text>
<text x="442.6" y="103.9" text-anchor="end">−<tspan dx="-0.45">0.4</tspan></text>
<text x="442.6" y="120.4" text-anchor="end">−<tspan dx="-0.45">0.6</tspan></text>
<text x="442.6" y="136.9" text-anchor="end">−<tspan dx="-0.45">0.8</tspan></text>
<text x="442.6" y="153.4" text-anchor="end">−<tspan dx="-0.45">1.0</tspan></text>
</g>
<text class="t" x="511.6" y="166.45" text-anchor="middle" font-size="8.2" font-weight="bold" fill="#111"><tspan font-style="italic">x</tspan> (mm)</text>
<text class="t" transform="translate(428.2 86.8) rotate(-90)" text-anchor="middle" font-size="8.2" font-weight="bold" fill="#111"><tspan font-style="italic">y</tspan> (mm)</text>
<text class="t" x="511" y="13.2" text-anchor="middle" font-size="13.6" fill="#000">+5 nC/mm</text>
<text class="t" x="562.2" y="40.65" text-anchor="middle" font-size="15" fill="#fff" stroke="#fff" stroke-width="0.15">(c)</text>
<g transform="translate(445.2 19.5)">
<path d="M78 94.7 L70.09 79.44" stroke="#fff" stroke-width="1.25" fill="none"/>
<path d="M68.2 75.8 L71.87 79.08 L68.76 80.69 Z" fill="#fff"/>
<text class="t" x="69" y="106.7" text-anchor="middle" font-size="9.05" fill="#fff">No</text>
<text class="t" x="69" y="117.1" text-anchor="middle" font-size="9.05" fill="#fff">Rotation</text>
</g>
<rect x="585.6" y="3.3" width="8.1" height="163.8" fill="url(#cb)" stroke="#909090" stroke-width="0.8"/>
<g class="s" font-size="5.2" fill="#222">
<text x="596.2" y="169.1">0</text>
<text x="596.2" y="145.5">1</text>
<text x="596.2" y="121.9">2</text>
<text x="596.2" y="98.29">3</text>
<text x="596.2" y="74.69">4</text>
<text x="596.2" y="51.09">5</text>
<text x="596.2" y="27.49">6</text>
</g>
<path d="M594 167.1 h1.4 M594 143.5 h1.4 M594 119.9 h1.4 M594 96.29 h1.4 M594 72.69 h1.4 M594 49.09 h1.4 M594 25.49 h1.4" stroke="#222" stroke-width="0.4" fill="none"/>
<text class="s" transform="translate(604.5 86.2) rotate(-90)" text-anchor="middle" font-size="5.2" fill="#333">Intensity</text>
</g>
<g id="panel-d">
<clipPath id="cp3"><rect x="26.5" y="212.1" width="132.2" height="132"/></clipPath>
<rect x="26.5" y="212.1" width="132.2" height="132" fill="#0a4c9a"/>
<g clip-path="url(#cp3)">
<rect x="26.5" y="212.1" width="132.2" height="132" filter="url(#ndd)"/>
<rect x="26.5" y="212.1" width="132.2" height="132" filter="url(#nzd)"/>
<path transform="translate(26.5 212.1)" d="M4.92 -0.88 L4.9 2.13 L4.88 5.14 L4.86 8.16 L4.86 11.18 L4.88 14.2 L4.92 17.22 L4.97 20.25 L5.05 23.28 L5.14 26.32 L5.24 29.35 L5.34 32.39 L5.44 35.43 L5.54 38.47 L5.62 41.52 L5.67 44.56 L5.7 47.61 L5.7 50.66 L5.66 53.71 L5.59 56.76 L5.49 59.81 L5.37 62.86 L5.22 65.91 L5.06 68.96 L4.89 72.01 L4.73 75.06 L4.58 78.11 L4.44 81.16 L4.33 84.21 L4.25 87.26 L4.19 90.3 L4.17 93.35 L4.18 96.39 L4.22 99.43 L4.28 102.47 L4.35 105.5 L4.44 108.54 L4.53 111.57 L4.61 114.6 L4.68 117.62 L4.75 120.65 L4.79 123.67 L4.82 126.68 L4.82 129.7 L4.82 132.71 M17.27 -0.55 L17.25 2.5 L17.24 5.54 L17.25 8.59 L17.27 11.63 L17.3 14.68 L17.36 17.73 L17.44 20.78 L17.53 23.83 L17.63 26.88 L17.73 29.93 L17.83 32.98 L17.92 36.02 L17.99 39.07 L18.03 42.12 L18.05 45.17 L18.04 48.21 L17.99 51.26 L17.92 54.3 L17.81 57.34 L17.67 60.38 L17.52 63.42 L17.36 66.45 L17.19 69.49 L17.03 72.52 L16.88 75.55 L16.75 78.57 L16.65 81.6 L16.57 84.62 L16.53 87.64 L16.52 90.66 L16.54 93.67 L16.58 96.68 L16.65 99.69 L16.73 102.69 L16.82 105.7 L16.91 108.7 L16.99 111.69 L17.07 114.69 L17.13 117.68 L17.17 120.67 L17.2 123.66 L17.2 126.65 L17.2 129.63 L17.18 132.61 M29.63 0.03 L29.62 3.08 L29.63 6.12 L29.65 9.17 L29.69 12.21 L29.75 15.25 L29.83 18.29 L29.92 21.33 L30.01 24.37 L30.11 27.41 L30.21 30.44 L30.29 33.47 L30.35 36.5 L30.39 39.52 L30.4 42.55 L30.38 45.57 L30.32 48.59 L30.23 51.61 L30.12 54.62 L29.98 57.63 L29.82 60.64 L29.66 63.65 L29.49 66.65 L29.33 69.65 L29.19 72.65 L29.07 75.65 L28.97 78.65 L28.9 81.64 L28.87 84.63 L28.87 87.62 L28.89 90.6 L28.95 93.59 L29.02 96.57 L29.11 99.55 L29.2 102.53 L29.29 105.51 L29.38 108.48 L29.45 111.46 L29.51 114.43 L29.55 117.41 L29.58 120.38 L29.58 123.35 L29.57 126.32 L29.55 129.29 L29.53 132.26 M42 0.47 L42.01 3.5 L42.03 6.52 L42.08 9.54 L42.14 12.56 L42.22 15.57 L42.3 18.58 L42.4 21.59 L42.49 24.6 L42.58 27.61 L42.66 30.61 L42.71 33.61 L42.74 36.61 L42.74 39.6 L42.71 42.6 L42.64 45.59 L42.55 48.58 L42.43 51.57 L42.28 54.55 L42.12 57.54 L41.96 60.52 L41.79 63.51 L41.64 66.49 L41.5 69.47 L41.38 72.44 L41.29 75.42 L41.24 78.4 L41.21 81.37 L41.22 84.35 L41.25 87.32 L41.32 90.3 L41.39 93.27 L41.49 96.25 L41.58 99.22 L41.68 102.19 L41.77 105.17 L41.84 108.14 L41.9 111.12 L41.94 114.09 L41.96 117.07 L41.96 120.05 L41.95 123.03 L41.93 126.01 L41.91 128.98 L41.88 131.97 M54.39 0.56 L54.42 3.55 L54.46 6.55 L54.52 9.54 L54.6 12.53 L54.69 15.52 L54.78 18.51 L54.87 21.49 L54.96 24.48 L55.02 27.46 L55.07 30.44 L55.09 33.42 L55.08 36.4 L55.04 39.38 L54.97 42.36 L54.86 45.34 L54.73 48.32 L54.59 51.3 L54.42 54.28 L54.26 57.25 L54.09 60.23 L53.94 63.21 L53.81 66.19 L53.7 69.16 L53.62 72.14 L53.57 75.12 L53.56 78.1 L53.57 81.08 L53.62 84.06 L53.69 87.04 L53.77 90.03 L53.87 93.01 L53.97 95.99 L54.07 98.98 L54.15 101.97 L54.23 104.95 L54.28 107.94 L54.32 110.93 L54.34 113.92 L54.34 116.91 L54.33 119.9 L54.31 122.89 L54.28 125.88 L54.26 128.88 L54.25 131.87 M66.8 0.37 L66.85 3.35 L66.91 6.33 L66.99 9.31 L67.07 12.29 L67.16 15.27 L67.25 18.26 L67.33 21.24 L67.39 24.22 L67.43 27.2 L67.44 30.18 L67.42 33.16 L67.37 36.15 L67.29 39.13 L67.17 42.11 L67.04 45.1 L66.89 48.08 L66.72 51.07 L66.56 54.05 L66.4 57.04 L66.25 60.03 L66.12 63.02 L66.02 66 L65.95 68.99 L65.91 71.98 L65.91 74.98 L65.93 77.97 L65.99 80.96 L66.06 83.95 L66.15 86.95 L66.25 89.94 L66.36 92.94 L66.46 95.93 L66.54 98.93 L66.62 101.93 L66.67 104.92 L66.71 107.92 L66.72 110.92 L66.72 113.91 L66.71 116.91 L66.69 119.91 L66.66 122.91 L66.64 125.9 L66.63 128.9 L66.63 131.9 M79.23 0.15 L79.29 3.14 L79.37 6.13 L79.45 9.11 L79.54 12.1 L79.62 15.09 L79.69 18.08 L79.75 21.07 L79.78 24.06 L79.78 27.05 L79.75 30.05 L79.69 33.04 L79.6 36.03 L79.48 39.03 L79.34 42.02 L79.19 45.02 L79.02 48.01 L78.86 51.01 L78.7 54 L78.56 57 L78.44 59.99 L78.34 62.99 L78.28 65.99 L78.25 68.98 L78.26 71.98 L78.3 74.98 L78.36 77.97 L78.44 80.97 L78.54 83.97 L78.64 86.96 L78.75 89.96 L78.85 92.95 L78.93 95.95 L79.01 98.94 L79.06 101.94 L79.09 104.93 L79.1 107.92 L79.1 110.91 L79.09 113.91 L79.07 116.9 L79.04 119.89 L79.02 122.88 L79.01 125.87 L79.02 128.86 L79.04 131.84 M91.67 0.08 L91.75 3.08 L91.83 6.07 L91.92 9.07 L91.99 12.07 L92.06 15.07 L92.1 18.06 L92.13 21.06 L92.12 24.06 L92.08 27.05 L92.01 30.05 L91.91 33.05 L91.79 36.04 L91.65 39.04 L91.49 42.03 L91.32 45.03 L91.16 48.02 L91 51.02 L90.87 54.01 L90.75 57 L90.67 60 L90.62 62.99 L90.6 65.98 L90.62 68.97 L90.66 71.96 L90.73 74.95 L90.82 77.93 L90.92 80.92 L91.03 83.91 L91.14 86.9 L91.24 89.88 L91.33 92.87 L91.4 95.85 L91.45 98.83 L91.48 101.82 L91.49 104.8 L91.48 107.78 L91.47 110.77 L91.44 113.75 L91.42 116.73 L91.4 119.71 L91.4 122.7 L91.4 125.68 L91.43 128.66 L91.47 131.65 M104.13 0.1 L104.21 3.1 L104.29 6.09 L104.36 9.09 L104.42 12.08 L104.46 15.07 L104.47 18.06 L104.45 21.05 L104.41 24.04 L104.33 27.03 L104.23 30.02 L104.1 33.01 L103.95 35.99 L103.79 38.98 L103.62 41.96 L103.46 44.94 L103.31 47.93 L103.18 50.91 L103.08 53.89 L103 56.87 L102.96 59.85 L102.95 62.83 L102.98 65.81 L103.03 68.79 L103.11 71.77 L103.21 74.75 L103.31 77.73 L103.43 80.71 L103.54 83.69 L103.63 86.67 L103.72 89.65 L103.79 92.63 L103.83 95.61 L103.86 98.59 L103.87 101.57 L103.86 104.55 L103.84 107.54 L103.82 110.52 L103.8 113.51 L103.78 116.5 L103.78 119.49 L103.79 122.48 L103.81 125.47 L103.86 128.47 L103.93 131.46 M116.58 0.02 L116.66 3 L116.73 5.98 L116.78 8.96 L116.81 11.94 L116.81 14.92 L116.79 17.9 L116.73 20.88 L116.65 23.85 L116.54 26.83 L116.4 29.81 L116.25 32.78 L116.09 35.76 L115.92 38.73 L115.76 41.71 L115.62 44.68 L115.5 47.66 L115.4 50.64 L115.34 53.61 L115.3 56.59 L115.31 59.57 L115.34 62.55 L115.41 65.53 L115.49 68.51 L115.59 71.49 L115.71 74.48 L115.82 77.46 L115.93 80.45 L116.03 83.44 L116.11 86.43 L116.18 89.42 L116.22 92.42 L116.25 95.41 L116.25 98.41 L116.24 101.41 L116.22 104.41 L116.2 107.42 L116.18 110.43 L116.16 113.44 L116.16 116.45 L116.17 119.46 L116.2 122.48 L116.25 125.5 L116.31 128.52 L116.4 131.54 M129.03 -0.26 L129.09 2.71 L129.13 5.68 L129.15 8.66 L129.15 11.63 L129.12 14.6 L129.06 17.58 L128.96 20.55 L128.84 23.53 L128.7 26.51 L128.55 29.49 L128.39 32.47 L128.22 35.45 L128.07 38.43 L127.93 41.41 L127.82 44.4 L127.73 47.39 L127.67 50.38 L127.65 53.37 L127.67 56.37 L127.71 59.36 L127.78 62.36 L127.88 65.36 L127.98 68.37 L128.1 71.38 L128.22 74.38 L128.33 77.4 L128.43 80.41 L128.51 83.43 L128.57 86.44 L128.61 89.47 L128.63 92.49 L128.63 95.51 L128.62 98.54 L128.6 101.57 L128.58 104.61 L128.55 107.64 L128.54 110.68 L128.54 113.71 L128.55 116.75 L128.58 119.79 L128.63 122.84 L128.7 125.88 L128.78 128.93 L128.87 131.97 M-0.05 11.01 L2.96 11.04 L5.98 11.1 L8.99 11.19 L12 11.3 L15.02 11.43 L18.04 11.57 L21.05 11.71 L24.07 11.86 L27.1 12 L30.12 12.13 L33.14 12.24 L36.17 12.34 L39.19 12.41 L42.22 12.46 L45.25 12.48 L48.28 12.48 L51.31 12.47 L54.34 12.43 L57.37 12.39 L60.4 12.33 L63.43 12.27 L66.46 12.21 L69.5 12.15 L72.53 12.09 L75.56 12.05 L78.59 12.01 L81.62 11.99 L84.65 11.97 L87.67 11.97 L90.7 11.97 L93.72 11.97 L96.75 11.98 L99.77 11.98 L102.79 11.98 L105.8 11.97 L108.82 11.95 L111.83 11.92 L114.84 11.88 L117.84 11.82 L120.85 11.76 L123.85 11.68 L126.85 11.6 L129.84 11.51 L132.84 11.43 M0.11 23.31 L3.14 23.38 L6.17 23.47 L9.2 23.59 L12.24 23.72 L15.27 23.87 L18.31 24.02 L21.34 24.16 L24.38 24.3 L27.41 24.43 L30.45 24.54 L33.48 24.62 L36.52 24.69 L39.55 24.73 L42.58 24.75 L45.61 24.75 L48.64 24.72 L51.67 24.68 L54.7 24.63 L57.73 24.57 L60.75 24.51 L63.77 24.44 L66.79 24.38 L69.8 24.32 L72.82 24.28 L75.83 24.24 L78.84 24.22 L81.84 24.2 L84.84 24.2 L87.84 24.2 L90.84 24.2 L93.83 24.21 L96.82 24.21 L99.81 24.21 L102.79 24.2 L105.77 24.18 L108.75 24.15 L111.73 24.1 L114.7 24.05 L117.67 23.98 L120.64 23.9 L123.6 23.82 L126.56 23.74 L129.52 23.66 L132.48 23.59 M0.51 35.66 L3.54 35.76 L6.58 35.89 L9.61 36.02 L12.64 36.17 L15.67 36.32 L18.7 36.47 L21.72 36.6 L24.75 36.73 L27.77 36.83 L30.78 36.91 L33.8 36.97 L36.81 37.01 L39.82 37.02 L42.83 37.01 L45.83 36.98 L48.83 36.93 L51.83 36.87 L54.82 36.81 L57.81 36.74 L60.8 36.67 L63.78 36.61 L66.76 36.55 L69.74 36.51 L72.72 36.47 L75.69 36.45 L78.66 36.43 L81.62 36.43 L84.59 36.43 L87.55 36.43 L90.51 36.44 L93.47 36.44 L96.42 36.44 L99.38 36.43 L102.33 36.41 L105.28 36.37 L108.23 36.33 L111.18 36.27 L114.13 36.2 L117.08 36.13 L120.03 36.05 L122.98 35.97 L125.93 35.9 L128.89 35.83 L131.84 35.78 M0.8 48.05 L3.81 48.18 L6.81 48.33 L9.81 48.48 L12.81 48.63 L15.8 48.77 L18.8 48.91 L21.78 49.02 L24.77 49.12 L27.75 49.2 L30.73 49.25 L33.7 49.28 L36.67 49.28 L39.64 49.26 L42.61 49.23 L45.57 49.17 L48.53 49.11 L51.49 49.04 L54.45 48.97 L57.41 48.9 L60.36 48.84 L63.31 48.78 L66.26 48.74 L69.21 48.7 L72.16 48.68 L75.11 48.66 L78.06 48.66 L81.01 48.66 L83.96 48.67 L86.91 48.67 L89.86 48.67 L92.81 48.67 L95.77 48.66 L98.72 48.63 L101.68 48.6 L104.64 48.55 L107.6 48.49 L110.56 48.43 L113.53 48.35 L116.5 48.28 L119.47 48.2 L122.44 48.13 L125.42 48.07 L128.4 48.03 L131.39 48 M0.62 60.48 L3.59 60.63 L6.55 60.78 L9.51 60.93 L12.47 61.08 L15.43 61.21 L18.39 61.32 L21.34 61.41 L24.29 61.48 L27.24 61.53 L30.19 61.55 L33.14 61.54 L36.09 61.52 L39.04 61.47 L41.99 61.42 L44.94 61.35 L47.89 61.28 L50.84 61.2 L53.79 61.13 L56.75 61.06 L59.7 61.01 L62.66 60.96 L65.62 60.93 L68.58 60.91 L71.54 60.89 L74.51 60.89 L77.47 60.89 L80.45 60.9 L83.42 60.9 L86.4 60.9 L89.38 60.9 L92.36 60.88 L95.35 60.86 L98.34 60.82 L101.33 60.78 L104.33 60.72 L107.33 60.65 L110.34 60.58 L113.34 60.51 L116.35 60.44 L119.37 60.37 L122.39 60.32 L125.41 60.28 L128.43 60.26 L131.46 60.26 M0.02 72.93 L2.97 73.09 L5.92 73.24 L8.87 73.38 L11.82 73.51 L14.77 73.61 L17.73 73.7 L20.68 73.76 L23.64 73.8 L26.6 73.81 L29.56 73.8 L32.52 73.77 L35.49 73.72 L38.46 73.65 L41.43 73.58 L44.4 73.51 L47.38 73.43 L50.36 73.36 L53.34 73.29 L56.33 73.23 L59.32 73.19 L62.31 73.16 L65.31 73.13 L68.31 73.12 L71.31 73.12 L74.32 73.12 L77.33 73.13 L80.34 73.13 L83.35 73.13 L86.37 73.13 L89.39 73.11 L92.42 73.09 L95.44 73.05 L98.47 73 L101.5 72.95 L104.54 72.88 L107.57 72.81 L110.61 72.74 L113.65 72.68 L116.69 72.62 L119.73 72.57 L122.77 72.54 L125.81 72.52 L128.85 72.53 L131.89 72.57 M-0.56 85.39 L2.41 85.54 L5.39 85.68 L8.36 85.8 L11.34 85.91 L14.33 85.99 L17.31 86.04 L20.3 86.07 L23.29 86.07 L26.29 86.05 L29.29 86.02 L32.29 85.96 L35.3 85.89 L38.3 85.81 L41.32 85.73 L44.33 85.66 L47.35 85.58 L50.37 85.51 L53.39 85.46 L56.41 85.41 L59.44 85.38 L62.47 85.36 L65.5 85.35 L68.53 85.35 L71.56 85.35 L74.6 85.36 L77.63 85.36 L80.67 85.36 L83.71 85.36 L86.75 85.34 L89.79 85.32 L92.82 85.28 L95.86 85.23 L98.9 85.18 L101.94 85.11 L104.98 85.05 L108.01 84.98 L111.05 84.92 L114.08 84.86 L117.12 84.82 L120.15 84.79 L123.18 84.79 L126.21 84.81 L129.24 84.85 L132.27 84.91 M-0.71 97.85 L2.3 97.98 L5.31 98.1 L8.33 98.2 L11.35 98.27 L14.37 98.32 L17.39 98.34 L20.41 98.33 L23.44 98.31 L26.47 98.26 L29.49 98.2 L32.53 98.12 L35.56 98.04 L38.59 97.96 L41.62 97.88 L44.66 97.8 L47.69 97.74 L50.73 97.68 L53.76 97.64 L56.8 97.61 L59.83 97.59 L62.87 97.58 L65.9 97.58 L68.93 97.58 L71.97 97.59 L75 97.6 L78.03 97.6 L81.06 97.59 L84.08 97.57 L87.11 97.55 L90.13 97.51 L93.16 97.46 L96.18 97.41 L99.2 97.35 L102.22 97.28 L105.24 97.22 L108.25 97.16 L111.27 97.11 L114.28 97.07 L117.29 97.06 L120.3 97.06 L123.31 97.08 L126.32 97.13 L129.33 97.2 L132.33 97.29 M-0.45 110.28 L2.58 110.4 L5.61 110.49 L8.64 110.55 L11.67 110.59 L14.71 110.6 L17.74 110.59 L20.77 110.56 L23.8 110.5 L26.83 110.43 L29.86 110.36 L32.88 110.27 L35.91 110.18 L38.94 110.1 L41.96 110.03 L44.99 109.96 L48.01 109.91 L51.03 109.86 L54.05 109.83 L57.07 109.82 L60.09 109.81 L63.1 109.81 L66.12 109.82 L69.13 109.82 L72.14 109.83 L75.15 109.83 L78.16 109.82 L81.17 109.8 L84.18 109.78 L87.18 109.74 L90.19 109.7 L93.19 109.64 L96.2 109.58 L99.2 109.52 L102.21 109.46 L105.21 109.41 L108.21 109.36 L111.21 109.33 L114.22 109.32 L117.22 109.33 L120.23 109.36 L123.23 109.41 L126.23 109.49 L129.24 109.59 L132.25 109.7 M-0.15 122.69 L2.87 122.77 L5.89 122.83 L8.91 122.86 L11.93 122.86 L14.95 122.84 L17.96 122.8 L20.97 122.74 L23.99 122.67 L27 122.58 L30.01 122.5 L33.02 122.41 L36.03 122.32 L39.03 122.25 L42.04 122.18 L45.04 122.13 L48.05 122.09 L51.05 122.06 L54.06 122.04 L57.06 122.04 L60.06 122.04 L63.07 122.05 L66.07 122.05 L69.07 122.06 L72.08 122.06 L75.08 122.05 L78.09 122.04 L81.09 122.01 L84.1 121.97 L87.1 121.93 L90.11 121.88 L93.12 121.82 L96.13 121.76 L99.14 121.7 L102.15 121.65 L105.16 121.62 L108.18 121.59 L111.19 121.59 L114.21 121.6 L117.23 121.64 L120.25 121.7 L123.27 121.78 L126.29 121.88 L129.32 122 L132.34 122.14" stroke="#083a7c" stroke-width="0.95" fill="none" opacity="0.72"/>
<g transform="translate(26.5 212.1)">
<path d="M42.4 111.2 L42.4 108.94 L42.4 106.69 L42.4 104.43 L42.4 102.17 L42.4 99.92 L42.4 97.66 L42.4 95.41 L42.4 93.15 L42.4 90.89 L42.4 88.64 L42.4 86.38 L42.4 84.12 L42.4 81.87 L42.4 79.61 L42.4 77.36 L42.4 75.1 L42.45 73.38 L42.59 71.78 L42.82 70.23 L43.15 68.72 L43.57 67.26 L44.08 65.85 L44.67 64.48 L45.36 63.16 L46.12 61.9 L46.97 60.7 L47.89 59.56 L48.89 58.49 L49.96 57.49 L51.1 56.57 L52.3 55.72 L53.56 54.96 L54.88 54.27 L56.25 53.68 L57.66 53.17 L59.12 52.75 L60.63 52.42 L62.18 52.19 L63.78 52.05 L65.5 52 L67.22 52.05 L68.82 52.19 L70.37 52.42 L71.88 52.75 L73.34 53.17 L74.75 53.68 L76.12 54.27 L77.44 54.96 L78.7 55.72 L79.9 56.57 L81.04 57.49 L82.11 58.49 L83.11 59.56 L84.03 60.7 L84.88 61.9 L85.64 63.16 L86.33 64.48 L86.92 65.85 L87.43 67.26 L87.85 68.72 L88.18 70.23 L88.41 71.78 L88.55 73.38 L88.6 75.1 L88.6 77.36 L88.6 79.61 L88.6 81.87 L88.6 84.12 L88.6 86.38 L88.6 88.64 L88.6 90.89 L88.6 93.15 L88.6 95.41 L88.6 97.66 L88.6 99.92 L88.6 102.17 L88.6 104.43 L88.6 106.69 L88.6 108.94 L88.6 111.2" stroke="#6aaad9" stroke-width="2.2" fill="none" opacity="0.42" filter="url(#b2)"/>
<path d="M42.4 111.2 L42.4 108.94 L42.4 106.69 L42.4 104.43 L42.4 102.17 L42.4 99.92 L42.4 97.66 L42.4 95.41 L42.4 93.15 L42.4 90.89 L42.4 88.64 L42.4 86.38 L42.4 84.12 L42.4 81.87 L42.4 79.61 L42.4 77.36 L42.4 75.1 L42.45 73.38 L42.59 71.78 L42.82 70.23 L43.15 68.72 L43.57 67.26 L44.08 65.85 L44.67 64.48 L45.36 63.16 L46.12 61.9 L46.97 60.7 L47.89 59.56 L48.89 58.49 L49.96 57.49 L51.1 56.57 L52.3 55.72 L53.56 54.96 L54.88 54.27 L56.25 53.68 L57.66 53.17 L59.12 52.75 L60.63 52.42 L62.18 52.19 L63.78 52.05 L65.5 52 L67.22 52.05 L68.82 52.19 L70.37 52.42 L71.88 52.75 L73.34 53.17 L74.75 53.68 L76.12 54.27 L77.44 54.96 L78.7 55.72 L79.9 56.57 L81.04 57.49 L82.11 58.49 L83.11 59.56 L84.03 60.7 L84.88 61.9 L85.64 63.16 L86.33 64.48 L86.92 65.85 L87.43 67.26 L87.85 68.72 L88.18 70.23 L88.41 71.78 L88.55 73.38 L88.6 75.1 L88.6 77.36 L88.6 79.61 L88.6 81.87 L88.6 84.12 L88.6 86.38 L88.6 88.64 L88.6 90.89 L88.6 93.15 L88.6 95.41 L88.6 97.66 L88.6 99.92 L88.6 102.17 L88.6 104.43 L88.6 106.69 L88.6 108.94 L88.6 111.2" stroke="#b9d6ec" stroke-width="0.9" fill="none" opacity="0.38" stroke-dasharray="1.7 1.3"/>
</g>
<rect x="26.87" y="212.71" width="131.83" height="131.39" filter="url(#nzd)" opacity="0.4"/>
</g>
<rect x="26.5" y="212.1" width="132.2" height="132" fill="none" stroke="#222" stroke-width="0.35"/>
<path d="M26.5 344.1 v1.5 M26.5 212.1 h-1.5 M43.02 344.1 v1.5 M26.5 228.6 h-1.5 M59.55 344.1 v1.5 M26.5 245.1 h-1.5 M76.07 344.1 v1.5 M26.5 261.6 h-1.5 M92.6 344.1 v1.5 M26.5 278.1 h-1.5 M109.12 344.1 v1.5 M26.5 294.6 h-1.5 M125.65 344.1 v1.5 M26.5 311.1 h-1.5 M142.17 344.1 v1.5 M26.5 327.6 h-1.5 M158.7 344.1 v1.5 M26.5 344.1 h-1.5" stroke="#222" stroke-width="0.4" fill="none"/>
<g class="s" font-size="5.2" fill="#222">
<text x="26.5" y="350.8" text-anchor="middle">−<tspan dx="-0.45">0.8</tspan></text>
<text x="43.02" y="350.8" text-anchor="middle">−<tspan dx="-0.45">0.6</tspan></text>
<text x="59.55" y="350.8" text-anchor="middle">−<tspan dx="-0.45">0.4</tspan></text>
<text x="76.07" y="350.8" text-anchor="middle">−<tspan dx="-0.45">0.2</tspan></text>
<text x="92.6" y="350.8" text-anchor="middle">0.0</text>
<text x="109.12" y="350.8" text-anchor="middle">0.2</text>
<text x="125.65" y="350.8" text-anchor="middle">0.4</text>
<text x="142.17" y="350.8" text-anchor="middle">0.6</text>
<text x="158.7" y="350.8" text-anchor="middle">0.8</text>
<text x="23.9" y="214" text-anchor="end">0.6</text>
<text x="23.9" y="230.5" text-anchor="end">0.4</text>
<text x="23.9" y="247" text-anchor="end">0.2</text>
<text x="23.9" y="263.5" text-anchor="end">0.0</text>
<text x="23.9" y="280" text-anchor="end">−<tspan dx="-0.45">0.2</tspan></text>
<text x="23.9" y="296.5" text-anchor="end">−<tspan dx="-0.45">0.4</tspan></text>
<text x="23.9" y="313" text-anchor="end">−<tspan dx="-0.45">0.6</tspan></text>
<text x="23.9" y="329.5" text-anchor="end">−<tspan dx="-0.45">0.8</tspan></text>
<text x="23.9" y="346" text-anchor="end">−<tspan dx="-0.45">1.0</tspan></text>
</g>
<text class="t" x="92.9" y="359.05" text-anchor="middle" font-size="8.2" font-weight="bold" fill="#111"><tspan font-style="italic">x</tspan> (mm)</text>
<text class="s" transform="translate(9.1 278.1) rotate(-90)" text-anchor="middle" font-size="5" fill="#222">Y (mm)</text>
<text class="t" x="98.9" y="205.8" text-anchor="middle" font-size="13.6" fill="#000">−5 nC/mm</text>
<text class="t" x="143.5" y="232.05" text-anchor="middle" font-size="15" fill="#fff" stroke="#fff" stroke-width="0.15">(d)</text>
<g transform="translate(26.5 212.1)">
<path d="M76.1 93.6 L69.4 79.88" stroke="#fff" stroke-width="1.25" fill="none"/>
<path d="M67.6 76.2 L71.19 79.57 L68.05 81.1 Z" fill="#fff"/>
<text class="t" x="68.7" y="105.7" text-anchor="middle" font-size="9.05" fill="#fff">No</text>
<text class="t" x="68.3" y="116.1" text-anchor="middle" font-size="9.05" fill="#fff">Rotation</text>
</g>
<rect x="166.3" y="196.4" width="9.2" height="163.6" fill="url(#cb)" stroke="#909090" stroke-width="0.8"/>
<g class="s" font-size="5.2" fill="#222">
<text x="178" y="362">0</text>
<text x="178" y="343.68">1</text>
<text x="178" y="325.36">2</text>
<text x="178" y="307.04">3</text>
<text x="178" y="288.72">4</text>
<text x="178" y="270.4">5</text>
<text x="178" y="252.08">6</text>
<text x="178" y="233.76">7</text>
<text x="178" y="215.44">8</text>
</g>
<path d="M175.8 360 h1.4 M175.8 341.68 h1.4 M175.8 323.36 h1.4 M175.8 305.04 h1.4 M175.8 286.72 h1.4 M175.8 268.4 h1.4 M175.8 250.08 h1.4 M175.8 231.76 h1.4 M175.8 213.44 h1.4" stroke="#222" stroke-width="0.4" fill="none"/>
<text class="s" transform="translate(186.3 279.2) rotate(-90)" text-anchor="middle" font-size="5.2" fill="#333">Intensity</text>
</g>
<g id="panel-e">
<clipPath id="cp4"><rect x="235.7" y="212.1" width="132.2" height="132"/></clipPath>
<rect x="235.7" y="212.1" width="132.2" height="132" fill="#0d56a3"/>
<g clip-path="url(#cp4)">
<rect x="235.7" y="212.1" width="132.2" height="132" filter="url(#nde)"/>
<rect x="235.7" y="212.1" width="132.2" height="132" filter="url(#nze)"/>
<path transform="translate(235.7 212.1)" d="M4.59 -0.21 L4.74 2.79 L4.9 5.79 L5.07 8.78 L5.23 11.78 L5.38 14.77 L5.5 17.77 L5.6 20.77 L5.67 23.76 L5.7 26.76 L5.7 29.75 L5.67 32.75 L5.61 35.74 L5.53 38.74 L5.43 41.73 L5.31 44.73 L5.2 47.72 L5.08 50.72 L4.98 53.72 L4.89 56.72 L4.82 59.72 L4.77 62.72 L4.74 65.73 L4.73 68.74 L4.74 71.75 L4.76 74.76 L4.79 77.77 L4.82 80.78 L4.84 83.79 L4.85 86.8 L4.84 89.82 L4.82 92.83 L4.77 95.84 L4.71 98.86 L4.63 101.87 L4.54 104.89 L4.44 107.91 L4.34 110.92 L4.25 113.94 L4.18 116.96 L4.12 119.99 L4.1 123.01 L4.1 126.03 L4.14 129.06 L4.21 132.09 M17.16 -0.3 L17.32 2.69 L17.49 5.69 L17.64 8.68 L17.79 11.68 L17.9 14.67 L17.99 17.67 L18.05 20.67 L18.07 23.66 L18.05 26.65 L17.99 29.64 L17.9 32.63 L17.78 35.61 L17.62 38.59 L17.45 41.57 L17.27 44.55 L17.08 47.54 L16.9 50.54 L16.73 53.55 L16.59 56.58 L16.48 59.62 L16.41 62.68 L16.38 65.74 L16.37 68.81 L16.4 71.88 L16.45 74.95 L16.51 78.01 L16.58 81.07 L16.64 84.12 L16.69 87.17 L16.73 90.2 L16.75 93.23 L16.75 96.25 L16.73 99.27 L16.69 102.28 L16.64 105.29 L16.58 108.3 L16.53 111.31 L16.48 114.32 L16.46 117.34 L16.45 120.36 L16.47 123.38 L16.52 126.41 L16.6 129.43 L16.71 132.46 M29.74 -0.36 L29.91 2.64 L30.06 5.65 L30.19 8.66 L30.3 11.67 L30.38 14.67 L30.41 17.67 L30.41 20.66 L30.35 23.64 L30.25 26.59 L30.09 29.53 L29.89 32.45 L29.63 35.35 L29.34 38.26 L29.03 41.19 L28.72 44.15 L28.44 47.15 L28.19 50.21 L28.01 53.33 L27.9 56.49 L27.85 59.67 L27.87 62.88 L27.94 66.09 L28.04 69.29 L28.17 72.47 L28.3 75.63 L28.43 78.77 L28.55 81.88 L28.65 84.97 L28.73 88.03 L28.79 91.07 L28.83 94.08 L28.85 97.08 L28.85 100.05 L28.84 103.01 L28.82 105.96 L28.8 108.91 L28.78 111.86 L28.78 114.82 L28.8 117.78 L28.84 120.76 L28.9 123.75 L29 126.74 L29.12 129.73 L29.26 132.73 M42.32 -0.18 L42.47 2.85 L42.6 5.87 L42.7 8.89 L42.76 11.91 L42.78 14.9 L42.76 17.87 L42.68 20.8 L42.54 23.68 L42.35 26.52 L42.09 29.32 L41.79 32.1 L41.46 34.9 L41.13 37.77 L40.83 40.76 L40.62 43.87 L40.52 47.13 L40.53 50.49 L40.67 53.9 L40.9 57.33 L41.19 60.7 L41.5 64.01 L41.8 67.23 L42.05 70.37 L42.23 73.46 L42.35 76.52 L42.4 79.55 L42.4 82.57 L42.34 85.58 L42.24 88.58 L42.11 91.56 L41.97 94.53 L41.82 97.48 L41.67 100.41 L41.53 103.33 L41.42 106.23 L41.33 109.13 L41.27 112.04 L41.25 114.95 L41.27 117.87 L41.33 120.81 L41.42 123.75 L41.54 126.71 L41.68 129.66 L41.84 132.63 M54.88 0.26 L55 3.29 L55.09 6.32 L55.15 9.33 L55.17 12.32 L55.15 15.27 L55.08 18.17 L54.96 20.99 L54.8 23.74 L54.59 26.42 L54.34 29.08 L54.08 31.77 L53.82 34.58 L53.6 37.59 L53.45 40.84 L53.4 44.33 L53.47 48 L53.64 51.75 L53.9 55.45 L54.21 59 L54.52 62.33 L54.8 65.44 L55.01 68.37 L55.15 71.18 L55.21 73.95 L55.2 76.71 L55.13 79.51 L55 82.35 L54.83 85.23 L54.64 88.14 L54.44 91.06 L54.23 94 L54.03 96.94 L53.85 99.87 L53.7 102.8 L53.59 105.73 L53.52 108.66 L53.5 111.59 L53.53 114.51 L53.6 117.45 L53.71 120.38 L53.86 123.32 L54.02 126.25 L54.2 129.19 L54.39 132.13 M67.4 0.71 L67.49 3.72 L67.54 6.73 L67.56 9.71 L67.54 12.66 L67.5 15.57 L67.42 18.4 L67.32 21.14 L67.21 23.79 L67.07 26.36 L66.93 28.91 L66.77 31.51 L66.61 34.28 L66.43 37.3 L66.25 40.64 L66.06 44.26 L65.87 48.09 L65.69 51.98 L65.53 55.76 L65.4 59.33 L65.3 62.6 L65.22 65.59 L65.16 68.36 L65.1 70.99 L65.02 73.59 L64.93 76.2 L64.82 78.87 L64.68 81.62 L64.53 84.43 L64.36 87.29 L64.19 90.2 L64.03 93.14 L63.89 96.11 L63.8 99.09 L63.76 102.1 L63.8 105.12 L63.91 108.15 L64.1 111.19 L64.38 114.21 L64.72 117.2 L65.1 120.17 L65.51 123.1 L65.91 126.01 L66.28 128.89 L66.62 131.77 M79.88 0.83 L79.92 3.81 L79.93 6.78 L79.91 9.73 L79.86 12.66 L79.79 15.55 L79.72 18.38 L79.65 21.13 L79.61 23.78 L79.58 26.34 L79.59 28.84 L79.62 31.33 L79.64 33.89 L79.63 36.62 L79.54 39.58 L79.34 42.8 L79.02 46.25 L78.58 49.85 L78.04 53.48 L77.43 57.03 L76.81 60.42 L76.22 63.59 L75.68 66.58 L75.2 69.41 L74.78 72.16 L74.41 74.88 L74.07 77.62 L73.76 80.4 L73.47 83.24 L73.2 86.14 L72.96 89.11 L72.76 92.15 L72.62 95.27 L72.56 98.48 L72.61 101.78 L72.8 105.16 L73.13 108.58 L73.61 112 L74.23 115.35 L74.96 118.59 L75.75 121.67 L76.56 124.57 L77.32 127.33 L78.01 129.99 L78.59 132.6 M92.29 0.47 L92.29 3.42 L92.25 6.37 L92.19 9.31 L92.11 12.24 L92.01 15.15 L91.92 18.03 L91.85 20.86 L91.81 23.64 L91.82 26.35 L91.9 28.99 L92.06 31.56 L92.29 34.11 L92.56 36.67 L92.86 39.3 L93.13 42.04 L93.34 44.91 L93.45 47.93 L93.44 51.06 L93.31 54.28 L93.09 57.51 L92.8 60.73 L92.47 63.9 L92.13 67.01 L91.82 70.07 L91.53 73.08 L91.29 76.08 L91.08 79.07 L90.92 82.08 L90.78 85.14 L90.68 88.25 L90.61 91.45 L90.58 94.76 L90.58 98.21 L90.62 101.81 L90.69 105.53 L90.79 109.33 L90.93 113.11 L91.09 116.79 L91.26 120.26 L91.44 123.45 L91.62 126.35 L91.79 128.98 L91.94 131.44 L92.06 133.81 M104.64 -0.17 L104.6 2.78 L104.52 5.73 L104.42 8.67 L104.31 11.62 L104.19 14.56 L104.07 17.5 L103.97 20.43 L103.89 23.34 L103.85 26.23 L103.87 29.1 L103.95 31.93 L104.1 34.73 L104.33 37.51 L104.63 40.28 L105 43.06 L105.41 45.87 L105.84 48.72 L106.26 51.63 L106.66 54.6 L107.02 57.62 L107.33 60.69 L107.59 63.78 L107.8 66.89 L107.96 70 L108.1 73.11 L108.22 76.22 L108.33 79.31 L108.44 82.41 L108.55 85.52 L108.67 88.65 L108.78 91.83 L108.88 95.06 L108.95 98.37 L108.97 101.76 L108.92 105.23 L108.78 108.74 L108.53 112.25 L108.19 115.69 L107.77 119 L107.29 122.15 L106.8 125.12 L106.32 127.93 L105.9 130.64 L105.54 133.29 M116.94 -0.69 L116.86 2.28 L116.75 5.26 L116.63 8.23 L116.5 11.21 L116.37 14.2 L116.24 17.18 L116.14 20.17 L116.05 23.16 L115.98 26.15 L115.95 29.13 L115.95 32.12 L115.98 35.1 L116.05 38.08 L116.15 41.05 L116.27 44.02 L116.42 47 L116.58 49.98 L116.75 52.97 L116.92 55.97 L117.07 58.99 L117.21 62.02 L117.32 65.06 L117.41 68.12 L117.48 71.18 L117.53 74.24 L117.57 77.31 L117.61 80.37 L117.65 83.44 L117.71 86.5 L117.77 89.57 L117.86 92.65 L117.95 95.74 L118.05 98.84 L118.14 101.96 L118.21 105.09 L118.25 108.23 L118.24 111.37 L118.2 114.5 L118.11 117.59 L117.99 120.66 L117.85 123.68 L117.69 126.67 L117.53 129.64 L117.38 132.59 M129.19 -0.79 L129.07 2.22 L128.95 5.23 L128.81 8.25 L128.68 11.26 L128.56 14.28 L128.45 17.31 L128.36 20.33 L128.29 23.36 L128.24 26.39 L128.22 29.42 L128.22 32.45 L128.24 35.49 L128.27 38.52 L128.31 41.56 L128.34 44.59 L128.38 47.63 L128.41 50.66 L128.42 53.7 L128.42 56.74 L128.41 59.78 L128.37 62.82 L128.33 65.86 L128.28 68.9 L128.22 71.95 L128.16 74.99 L128.12 78.03 L128.09 81.07 L128.07 84.11 L128.09 87.15 L128.13 90.18 L128.2 93.22 L128.3 96.25 L128.42 99.29 L128.55 102.32 L128.7 105.35 L128.85 108.39 L129 111.42 L129.13 114.44 L129.24 117.47 L129.33 120.48 L129.39 123.5 L129.41 126.51 L129.41 129.51 L129.38 132.51 M0.24 11.7 L3.3 11.69 L6.35 11.67 L9.41 11.65 L12.46 11.62 L15.51 11.6 L18.56 11.57 L21.61 11.56 L24.65 11.55 L27.69 11.55 L30.73 11.57 L33.76 11.61 L36.79 11.66 L39.82 11.73 L42.84 11.81 L45.86 11.9 L48.88 12 L51.9 12.11 L54.91 12.21 L57.92 12.32 L60.93 12.41 L63.94 12.49 L66.94 12.56 L69.95 12.6 L72.94 12.62 L75.94 12.62 L78.93 12.58 L81.91 12.52 L84.89 12.44 L87.87 12.33 L90.84 12.2 L93.81 12.06 L96.78 11.9 L99.75 11.75 L102.71 11.6 L105.67 11.46 L108.64 11.33 L111.6 11.23 L114.56 11.15 L117.52 11.1 L120.49 11.08 L123.45 11.09 L126.41 11.12 L129.37 11.18 L132.33 11.26 M0.74 23.94 L3.76 23.92 L6.79 23.9 L9.81 23.88 L12.82 23.85 L15.83 23.83 L18.83 23.81 L21.83 23.79 L24.82 23.78 L27.8 23.78 L30.77 23.79 L33.74 23.79 L36.7 23.8 L39.66 23.81 L42.62 23.83 L45.58 23.84 L48.56 23.85 L51.54 23.86 L54.53 23.88 L57.54 23.89 L60.55 23.9 L63.57 23.91 L66.59 23.92 L69.62 23.92 L72.64 23.92 L75.66 23.92 L78.66 23.91 L81.66 23.9 L84.64 23.88 L87.6 23.84 L90.55 23.8 L93.49 23.74 L96.43 23.68 L99.36 23.6 L102.3 23.53 L105.24 23.45 L108.18 23.39 L111.14 23.34 L114.1 23.31 L117.07 23.31 L120.04 23.33 L123.02 23.38 L125.99 23.45 L128.98 23.53 L131.96 23.64 M0.74 36.18 L3.72 36.16 L6.7 36.13 L9.67 36.1 L12.63 36.07 L15.58 36.04 L18.5 36 L21.41 35.95 L24.29 35.89 L27.15 35.82 L30 35.73 L32.85 35.62 L35.7 35.51 L38.58 35.39 L41.49 35.28 L44.44 35.18 L47.43 35.1 L50.46 35.03 L53.52 34.97 L56.6 34.92 L59.7 34.86 L62.82 34.78 L65.96 34.69 L69.11 34.58 L72.28 34.46 L75.46 34.35 L78.64 34.26 L81.81 34.22 L84.95 34.22 L88.03 34.28 L91.05 34.39 L94.01 34.54 L96.9 34.71 L99.76 34.88 L102.59 35.03 L105.43 35.16 L108.28 35.27 L111.16 35.36 L114.07 35.44 L117.01 35.52 L119.97 35.61 L122.95 35.7 L125.94 35.81 L128.94 35.92 L131.94 36.04 M0.35 48.41 L3.31 48.39 L6.26 48.36 L9.18 48.32 L12.08 48.28 L14.94 48.24 L17.75 48.17 L20.53 48.09 L23.27 48 L26.01 47.9 L28.77 47.8 L31.59 47.73 L34.5 47.7 L37.5 47.74 L40.6 47.85 L43.75 48.04 L46.93 48.28 L50.1 48.54 L53.23 48.79 L56.29 49 L59.3 49.11 L62.27 49.11 L65.23 48.98 L68.23 48.7 L71.32 48.29 L74.52 47.77 L77.86 47.2 L81.33 46.64 L84.88 46.14 L88.44 45.78 L91.93 45.58 L95.25 45.56 L98.38 45.71 L101.3 45.97 L104.06 46.3 L106.71 46.64 L109.32 46.97 L111.95 47.26 L114.65 47.5 L117.42 47.71 L120.26 47.88 L123.16 48.04 L126.1 48.18 L129.08 48.32 L132.06 48.45 M-0.01 60.65 L2.95 60.63 L5.88 60.61 L8.77 60.59 L11.62 60.57 L14.41 60.55 L17.15 60.53 L19.86 60.52 L22.59 60.53 L25.37 60.57 L28.27 60.65 L31.33 60.8 L34.56 61.03 L37.93 61.34 L41.38 61.71 L44.82 62.13 L48.16 62.54 L51.35 62.93 L54.36 63.26 L57.18 63.5 L59.83 63.64 L62.35 63.67 L64.79 63.56 L67.23 63.31 L69.78 62.9 L72.53 62.34 L75.59 61.63 L79.04 60.84 L82.87 60.03 L86.99 59.28 L91.22 58.68 L95.35 58.28 L99.19 58.12 L102.63 58.16 L105.65 58.37 L108.31 58.69 L110.75 59.05 L113.11 59.4 L115.5 59.71 L117.99 59.98 L120.6 60.21 L123.34 60.41 L126.17 60.58 L129.07 60.73 L132.01 60.86 M-0.07 72.91 L2.89 72.9 L5.83 72.9 L8.72 72.92 L11.57 72.95 L14.36 73 L17.12 73.08 L19.87 73.19 L22.68 73.33 L25.59 73.5 L28.66 73.71 L31.92 73.95 L35.34 74.19 L38.86 74.43 L42.38 74.64 L45.82 74.81 L49.08 74.93 L52.14 75 L54.98 75.01 L57.63 74.97 L60.09 74.89 L62.39 74.77 L64.57 74.62 L66.66 74.41 L68.78 74.14 L71.06 73.79 L73.7 73.36 L76.86 72.85 L80.63 72.32 L84.95 71.81 L89.65 71.38 L94.43 71.07 L98.96 70.92 L102.99 70.93 L106.42 71.08 L109.26 71.31 L111.68 71.6 L113.88 71.9 L116.04 72.18 L118.3 72.44 L120.71 72.65 L123.3 72.84 L126.03 73 L128.86 73.14 L131.77 73.26 M0.01 85.17 L2.98 85.18 L5.93 85.21 L8.85 85.26 L11.72 85.33 L14.57 85.44 L17.39 85.58 L20.21 85.76 L23.09 85.97 L26.05 86.2 L29.13 86.43 L32.35 86.64 L35.67 86.82 L39.04 86.93 L42.39 86.98 L45.65 86.96 L48.77 86.88 L51.72 86.75 L54.52 86.59 L57.15 86.42 L59.62 86.23 L61.92 86.02 L64.04 85.81 L66.03 85.57 L67.97 85.3 L70.04 85.01 L72.47 84.69 L75.48 84.35 L79.21 84.04 L83.67 83.76 L88.64 83.56 L93.8 83.46 L98.74 83.46 L103.14 83.56 L106.81 83.74 L109.77 83.97 L112.18 84.23 L114.28 84.48 L116.31 84.72 L118.43 84.94 L120.73 85.13 L123.24 85.29 L125.92 85.43 L128.74 85.55 L131.65 85.65 M-0.09 97.45 L2.88 97.48 L5.83 97.52 L8.77 97.59 L11.68 97.68 L14.59 97.8 L17.48 97.95 L20.37 98.13 L23.29 98.33 L26.26 98.54 L29.28 98.74 L32.37 98.91 L35.51 99.04 L38.68 99.1 L41.82 99.09 L44.92 99.03 L47.94 98.91 L50.87 98.75 L53.69 98.57 L56.39 98.37 L58.93 98.18 L61.28 97.98 L63.43 97.79 L65.4 97.6 L67.31 97.41 L69.32 97.24 L71.71 97.07 L74.72 96.93 L78.52 96.8 L83.11 96.71 L88.28 96.66 L93.66 96.64 L98.83 96.66 L103.41 96.72 L107.2 96.81 L110.22 96.93 L112.63 97.06 L114.69 97.2 L116.66 97.35 L118.74 97.49 L121.01 97.62 L123.5 97.75 L126.19 97.85 L129.03 97.94 L131.96 98.01 M-0.46 109.75 L2.51 109.78 L5.47 109.84 L8.43 109.91 L11.39 110 L14.35 110.11 L17.3 110.24 L20.26 110.38 L23.23 110.52 L26.21 110.67 L29.21 110.8 L32.24 110.9 L35.28 110.97 L38.33 110.99 L41.37 110.97 L44.4 110.91 L47.4 110.8 L50.36 110.67 L53.25 110.52 L56.06 110.38 L58.74 110.24 L61.25 110.13 L63.58 110.08 L65.74 110.09 L67.84 110.19 L70.02 110.38 L72.53 110.65 L75.58 110.97 L79.32 111.28 L83.74 111.55 L88.69 111.7 L93.81 111.73 L98.75 111.62 L103.17 111.4 L106.91 111.12 L109.96 110.84 L112.47 110.58 L114.69 110.39 L116.82 110.27 L119.03 110.21 L121.42 110.21 L124 110.23 L126.75 110.27 L129.62 110.31 L132.58 110.35 M-0.79 122.06 L2.21 122.11 L5.21 122.18 L8.21 122.26 L11.21 122.35 L14.22 122.45 L17.23 122.55 L20.24 122.66 L23.26 122.75 L26.28 122.84 L29.31 122.91 L32.35 122.95 L35.39 122.97 L38.43 122.96 L41.47 122.92 L44.51 122.84 L47.55 122.74 L50.57 122.62 L53.56 122.49 L56.5 122.37 L59.38 122.27 L62.17 122.23 L64.86 122.26 L67.46 122.39 L70.02 122.66 L72.63 123.07 L75.41 123.59 L78.47 124.17 L81.91 124.74 L85.71 125.21 L89.79 125.5 L93.96 125.56 L98.03 125.39 L101.82 125.04 L105.24 124.57 L108.29 124.06 L111.06 123.6 L113.65 123.22 L116.2 122.95 L118.79 122.78 L121.47 122.69 L124.25 122.65 L127.12 122.64 L130.06 122.64 L133.03 122.64" stroke="#083a7c" stroke-width="0.95" fill="none" opacity="0.85"/>
<g transform="translate(235.7 212.1)">
<linearGradient id="ge" gradientUnits="userSpaceOnUse" x1="32" y1="0" x2="80" y2="0"><stop offset="0" stop-color="#083370" stop-opacity="0.62"/><stop offset="1" stop-color="#083370" stop-opacity="0.95"/></linearGradient>
<path d="M36.1 103.5 L35.91 101.64 L35.47 99.78 L35 97.91 L34.72 96.05 L34.61 94.19 L34.28 92.32 L33.87 90.46 L33.56 88.6 L33.49 86.74 L33.4 84.88 L33.24 83.01 L33.04 81.15 L32.83 79.29 L32.63 77.42 L32.48 75.56 L32.41 73.63 L32.43 71.07 L32.54 68.72 L32.74 66.48 L33.05 64.31 L33.49 62.19 L34.06 60.13 L34.78 58.13 L35.65 56.21 L36.68 54.37 L37.85 52.64 L39.15 51 L40.56 49.46 L42.07 48.01 L43.68 46.67 L45.38 45.44 L47.17 44.31 L49.06 43.3 L51.02 42.41 L53.07 41.65 L55.19 41.01 L57.39 40.49 L59.68 40.11 L62.1 39.85 L64.8 39.71 L67.51 39.71 L69.94 39.86 L72.26 40.16 L74.51 40.59 L76.69 41.13 L78.82 41.78 L80.89 42.55 L82.9 43.43 L84.86 44.44 L86.74 45.58 L88.54 46.84 L90.26 48.24 L91.89 49.76 L93.4 51.4 L94.8 53.17 L96.08 55.05 L97.22 57.03 L98.22 59.12 L99.07 61.3 L99.76 63.57 L100.29 65.91 L100.64 68.35 L100.87 70.89 L101.06 73.61 L101.29 76.44 L101.54 79.19 L101.76 81.93 L101.89 84.67 L101.9 87.42 L101.91 90.16 L101.93 92.91 L101.95 95.65 L101.97 98.39 L102 101.14 L102.02 103.88 L102.05 106.62 L102.07 109.37 L102.08 112.11 L102.1 114.86 L102.1 117.6 L101.74 120.32 L100.69 122.85 L99.02 125.02 L96.85 126.69 L94.32 127.74 L91.6 128.1 L88.88 127.74 L86.35 126.69 L84.18 125.02 L82.51 122.85 L81.46 120.32 L81.1 117.6 L81.1 114.86 L81.12 112.11 L81.13 109.37 L81.15 106.62 L81.18 103.88 L81.2 101.14 L81.23 98.39 L81.25 95.65 L81.27 92.91 L81.29 90.16 L81.3 87.42 L81.31 84.67 L81.44 81.93 L81.66 79.19 L81.91 76.44 L82.14 73.79 L82.23 71.76 L82.15 70.28 L82 68.95 L81.81 67.71 L81.6 66.56 L81.34 65.46 L81.04 64.41 L80.69 63.41 L80.29 62.44 L79.83 61.52 L79.31 60.63 L78.73 59.77 L78.07 58.96 L77.34 58.19 L76.53 57.47 L75.64 56.8 L74.67 56.2 L73.61 55.66 L72.46 55.2 L71.21 54.83 L69.88 54.56 L68.43 54.35 L66.84 54.21 L64.8 54.14 L62.76 54.14 L61.16 54.22 L59.69 54.37 L58.33 54.6 L57.05 54.9 L55.84 55.26 L54.7 55.7 L53.63 56.19 L52.61 56.76 L51.66 57.38 L50.76 58.07 L49.92 58.82 L49.15 59.64 L48.44 60.52 L47.78 61.46 L47.18 62.46 L46.63 63.53 L46.13 64.66 L45.69 65.86 L45.32 67.14 L45.02 68.52 L44.79 70 L44.65 71.63 L44.58 73.78 L44.32 75.56 L43.81 77.42 L43.15 79.29 L42.44 81.15 L41.76 83.01 L41.23 84.88 L40.93 86.74 L40.79 88.6 L40.19 90.46 L39.41 92.32 L38.77 94.19 L38.57 96.05 L38.14 97.91 L37.44 99.78 L36.79 101.64 L36.5 103.5Z" fill="none" stroke="#5aa2d2" stroke-width="4.5" opacity="0.22" filter="url(#b3)"/>
<path d="M36.1 103.5 L35.91 101.64 L35.47 99.78 L35 97.91 L34.72 96.05 L34.61 94.19 L34.28 92.32 L33.87 90.46 L33.56 88.6 L33.49 86.74 L33.4 84.88 L33.24 83.01 L33.04 81.15 L32.83 79.29 L32.63 77.42 L32.48 75.56 L32.41 73.63 L32.43 71.07 L32.54 68.72 L32.74 66.48 L33.05 64.31 L33.49 62.19 L34.06 60.13 L34.78 58.13 L35.65 56.21 L36.68 54.37 L37.85 52.64 L39.15 51 L40.56 49.46 L42.07 48.01 L43.68 46.67 L45.38 45.44 L47.17 44.31 L49.06 43.3 L51.02 42.41 L53.07 41.65 L55.19 41.01 L57.39 40.49 L59.68 40.11 L62.1 39.85 L64.8 39.71 L67.51 39.71 L69.94 39.86 L72.26 40.16 L74.51 40.59 L76.69 41.13 L78.82 41.78 L80.89 42.55 L82.9 43.43 L84.86 44.44 L86.74 45.58 L88.54 46.84 L90.26 48.24 L91.89 49.76 L93.4 51.4 L94.8 53.17 L96.08 55.05 L97.22 57.03 L98.22 59.12 L99.07 61.3 L99.76 63.57 L100.29 65.91 L100.64 68.35 L100.87 70.89 L101.06 73.61 L101.29 76.44 L101.54 79.19 L101.76 81.93 L101.89 84.67 L101.9 87.42 L101.91 90.16 L101.93 92.91 L101.95 95.65 L101.97 98.39 L102 101.14 L102.02 103.88 L102.05 106.62 L102.07 109.37 L102.08 112.11 L102.1 114.86 L102.1 117.6 L101.74 120.32 L100.69 122.85 L99.02 125.02 L96.85 126.69 L94.32 127.74 L91.6 128.1 L88.88 127.74 L86.35 126.69 L84.18 125.02 L82.51 122.85 L81.46 120.32 L81.1 117.6 L81.1 114.86 L81.12 112.11 L81.13 109.37 L81.15 106.62 L81.18 103.88 L81.2 101.14 L81.23 98.39 L81.25 95.65 L81.27 92.91 L81.29 90.16 L81.3 87.42 L81.31 84.67 L81.44 81.93 L81.66 79.19 L81.91 76.44 L82.14 73.79 L82.23 71.76 L82.15 70.28 L82 68.95 L81.81 67.71 L81.6 66.56 L81.34 65.46 L81.04 64.41 L80.69 63.41 L80.29 62.44 L79.83 61.52 L79.31 60.63 L78.73 59.77 L78.07 58.96 L77.34 58.19 L76.53 57.47 L75.64 56.8 L74.67 56.2 L73.61 55.66 L72.46 55.2 L71.21 54.83 L69.88 54.56 L68.43 54.35 L66.84 54.21 L64.8 54.14 L62.76 54.14 L61.16 54.22 L59.69 54.37 L58.33 54.6 L57.05 54.9 L55.84 55.26 L54.7 55.7 L53.63 56.19 L52.61 56.76 L51.66 57.38 L50.76 58.07 L49.92 58.82 L49.15 59.64 L48.44 60.52 L47.78 61.46 L47.18 62.46 L46.63 63.53 L46.13 64.66 L45.69 65.86 L45.32 67.14 L45.02 68.52 L44.79 70 L44.65 71.63 L44.58 73.78 L44.32 75.56 L43.81 77.42 L43.15 79.29 L42.44 81.15 L41.76 83.01 L41.23 84.88 L40.93 86.74 L40.79 88.6 L40.19 90.46 L39.41 92.32 L38.77 94.19 L38.57 96.05 L38.14 97.91 L37.44 99.78 L36.79 101.64 L36.5 103.5Z" fill="url(#ge)" filter="url(#b1)"/>
</g>
<rect x="236.07" y="212.71" width="131.83" height="131.39" filter="url(#nze)" opacity="0.4"/>
</g>
<rect x="235.7" y="212.1" width="132.2" height="132" fill="none" stroke="#222" stroke-width="0.35"/>
<path d="M235.7 344.1 v1.5 M235.7 212.1 h-1.5 M252.22 344.1 v1.5 M235.7 228.6 h-1.5 M268.75 344.1 v1.5 M235.7 245.1 h-1.5 M285.27 344.1 v1.5 M235.7 261.6 h-1.5 M301.8 344.1 v1.5 M235.7 278.1 h-1.5 M318.32 344.1 v1.5 M235.7 294.6 h-1.5 M334.85 344.1 v1.5 M235.7 311.1 h-1.5 M351.38 344.1 v1.5 M235.7 327.6 h-1.5 M367.9 344.1 v1.5 M235.7 344.1 h-1.5" stroke="#222" stroke-width="0.4" fill="none"/>
<g class="s" font-size="5.2" fill="#222">
<text x="235.7" y="350.8" text-anchor="middle">−<tspan dx="-0.45">0.8</tspan></text>
<text x="252.22" y="350.8" text-anchor="middle">−<tspan dx="-0.45">0.6</tspan></text>
<text x="268.75" y="350.8" text-anchor="middle">−<tspan dx="-0.45">0.4</tspan></text>
<text x="285.27" y="350.8" text-anchor="middle">−<tspan dx="-0.45">0.2</tspan></text>
<text x="301.8" y="350.8" text-anchor="middle">0.0</text>
<text x="318.32" y="350.8" text-anchor="middle">0.2</text>
<text x="334.85" y="350.8" text-anchor="middle">0.4</text>
<text x="351.38" y="350.8" text-anchor="middle">0.6</text>
<text x="367.9" y="350.8" text-anchor="middle">0.8</text>
<text x="233.1" y="214" text-anchor="end">0.6</text>
<text x="233.1" y="230.5" text-anchor="end">0.4</text>
<text x="233.1" y="247" text-anchor="end">0.2</text>
<text x="233.1" y="263.5" text-anchor="end">0.0</text>
<text x="233.1" y="280" text-anchor="end">−<tspan dx="-0.45">0.2</tspan></text>
<text x="233.1" y="296.5" text-anchor="end">−<tspan dx="-0.45">0.4</tspan></text>
<text x="233.1" y="313" text-anchor="end">−<tspan dx="-0.45">0.6</tspan></text>
<text x="233.1" y="329.5" text-anchor="end">−<tspan dx="-0.45">0.8</tspan></text>
<text x="233.1" y="346" text-anchor="end">−<tspan dx="-0.45">1.0</tspan></text>
</g>
<text class="t" x="302.1" y="359.05" text-anchor="middle" font-size="8.2" font-weight="bold" fill="#111"><tspan font-style="italic">x</tspan> (mm)</text>
<text class="t" transform="translate(218.7 279.4) rotate(-90)" text-anchor="middle" font-size="8.2" font-weight="bold" fill="#111"><tspan font-style="italic">y</tspan> (mm)</text>
<text class="t" x="301.5" y="205.8" text-anchor="middle" font-size="13.6" fill="#000">+100 kA &amp; +5 nC/mm</text>
<text class="t" x="352.7" y="232.05" text-anchor="middle" font-size="15" fill="#fff" stroke="#fff" stroke-width="0.15">(e)</text>
<g transform="translate(235.7 212.1)">
<path d="M74.9 95.2 L66.63 79.72" stroke="#fff" stroke-width="1.25" fill="none"/>
<path d="M64.7 76.1 L68.41 79.33 L65.32 80.98 Z" fill="#fff"/>
<text class="t" x="63.5" y="110.9" text-anchor="middle" font-size="9.05" fill="#fff">Rotation</text>
</g>
<rect x="376.3" y="196.4" width="8.2" height="163.6" fill="url(#cb)" stroke="#909090" stroke-width="0.8"/>
<g class="s" font-size="5.2" fill="#222">
<text x="387" y="362">0</text>
<text x="387" y="328.95">2</text>
<text x="387" y="295.9">4</text>
<text x="387" y="262.85">6</text>
<text x="387" y="229.8">8</text>
</g>
<path d="M384.8 360 h1.4 M384.8 326.95 h1.4 M384.8 293.9 h1.4 M384.8 260.85 h1.4 M384.8 227.8 h1.4" stroke="#222" stroke-width="0.4" fill="none"/>
<text class="s" transform="translate(395.3 279.2) rotate(-90)" text-anchor="middle" font-size="5.2" fill="#333">Intensity</text>
</g>
<g id="panel-f">
<clipPath id="cp5"><rect x="445.2" y="212.1" width="132.2" height="132"/></clipPath>
<rect x="445.2" y="212.1" width="132.2" height="132" fill="#094a98"/>
<g clip-path="url(#cp5)">
<rect x="445.2" y="212.1" width="132.2" height="132" filter="url(#ndf)"/>
<rect x="445.2" y="212.1" width="132.2" height="132" filter="url(#nzf)"/>
<path transform="translate(445.2 212.1)" d="M4.81 -0.46 L4.79 2.58 L4.77 5.62 L4.74 8.67 L4.71 11.71 L4.7 14.75 L4.7 17.79 L4.71 20.84 L4.75 23.88 L4.81 26.92 L4.89 29.96 L4.99 33.01 L5.1 36.05 L5.22 39.09 L5.35 42.13 L5.47 45.16 L5.58 48.2 L5.67 51.24 L5.73 54.27 L5.77 57.3 L5.77 60.33 L5.73 63.36 L5.66 66.39 L5.56 69.41 L5.44 72.44 L5.29 75.46 L5.14 78.47 L4.98 81.49 L4.82 84.5 L4.67 87.52 L4.55 90.53 L4.44 93.53 L4.37 96.54 L4.32 99.54 L4.3 102.55 L4.31 105.54 L4.34 108.54 L4.39 111.54 L4.45 114.53 L4.51 117.52 L4.58 120.51 L4.63 123.5 L4.68 126.49 L4.71 129.48 L4.73 132.46 M17.17 0.05 L17.14 3.08 L17.12 6.12 L17.09 9.15 L17.08 12.19 L17.08 15.22 L17.1 18.25 L17.14 21.28 L17.2 24.31 L17.29 27.33 L17.39 30.36 L17.5 33.38 L17.62 36.4 L17.75 39.42 L17.86 42.43 L17.96 45.45 L18.05 48.46 L18.1 51.47 L18.12 54.48 L18.11 57.49 L18.07 60.49 L17.99 63.49 L17.88 66.49 L17.75 69.49 L17.6 72.49 L17.44 75.48 L17.28 78.48 L17.12 81.47 L16.98 84.46 L16.86 87.45 L16.76 90.44 L16.69 93.43 L16.65 96.42 L16.64 99.4 L16.66 102.39 L16.69 105.37 L16.75 108.35 L16.81 111.34 L16.88 114.32 L16.95 117.3 L17 120.28 L17.05 123.27 L17.08 126.25 L17.09 129.23 L17.09 132.21 M29.52 0.36 L29.49 3.38 L29.47 6.39 L29.46 9.4 L29.47 12.41 L29.49 15.42 L29.53 18.43 L29.6 21.43 L29.69 24.44 L29.79 27.44 L29.9 30.44 L30.02 33.44 L30.14 36.43 L30.25 39.43 L30.35 42.42 L30.42 45.42 L30.46 48.41 L30.48 51.4 L30.45 54.39 L30.4 57.38 L30.31 60.37 L30.19 63.36 L30.06 66.35 L29.9 69.33 L29.74 72.32 L29.58 75.3 L29.42 78.29 L29.29 81.28 L29.17 84.26 L29.08 87.25 L29.02 90.23 L28.99 93.22 L28.98 96.2 L29.01 99.19 L29.05 102.18 L29.11 105.17 L29.18 108.15 L29.25 111.14 L29.32 114.13 L29.38 117.12 L29.42 120.11 L29.45 123.1 L29.47 126.09 L29.46 129.08 L29.44 132.07 M41.87 0.38 L41.85 3.37 L41.85 6.37 L41.85 9.36 L41.88 12.36 L41.93 15.35 L42 18.34 L42.08 21.33 L42.19 24.32 L42.3 27.31 L42.42 30.3 L42.53 33.29 L42.64 36.28 L42.72 39.27 L42.79 42.26 L42.82 45.25 L42.82 48.24 L42.79 51.23 L42.73 54.22 L42.63 57.21 L42.51 60.2 L42.36 63.19 L42.2 66.18 L42.04 69.17 L41.88 72.16 L41.73 75.16 L41.59 78.15 L41.48 81.14 L41.4 84.13 L41.35 87.13 L41.32 90.12 L41.33 93.12 L41.36 96.11 L41.41 99.11 L41.48 102.1 L41.55 105.1 L41.62 108.1 L41.69 111.09 L41.75 114.09 L41.8 117.09 L41.83 120.09 L41.84 123.08 L41.83 126.08 L41.82 129.08 L41.79 132.07 M54.23 0.25 L54.23 3.24 L54.24 6.24 L54.27 9.23 L54.32 12.22 L54.39 15.22 L54.48 18.21 L54.58 21.2 L54.7 24.2 L54.81 27.19 L54.92 30.19 L55.02 33.18 L55.1 36.18 L55.15 39.17 L55.17 42.17 L55.16 45.16 L55.12 48.16 L55.04 51.16 L54.93 54.16 L54.8 57.16 L54.65 60.16 L54.49 63.16 L54.33 66.16 L54.17 69.15 L54.03 72.15 L53.9 75.15 L53.8 78.15 L53.72 81.15 L53.68 84.15 L53.66 87.14 L53.67 90.14 L53.71 93.14 L53.77 96.14 L53.84 99.13 L53.91 102.13 L53.99 105.13 L54.06 108.12 L54.12 111.12 L54.17 114.11 L54.2 117.1 L54.21 120.09 L54.2 123.09 L54.19 126.08 L54.16 129.07 L54.13 132.05 M66.61 0.19 L66.63 3.19 L66.66 6.19 L66.71 9.2 L66.79 12.2 L66.88 15.2 L66.98 18.2 L67.09 21.2 L67.2 24.2 L67.31 27.2 L67.4 30.2 L67.47 33.2 L67.51 36.19 L67.52 39.18 L67.49 42.18 L67.42 45.17 L67.32 48.16 L67.18 51.17 L67.03 54.17 L66.86 57.19 L66.68 60.2 L66.51 63.21 L66.35 66.2 L66.2 69.19 L66.07 72.18 L65.96 75.16 L65.88 78.15 L65.82 81.13 L65.79 84.11 L65.79 87.1 L65.8 90.09 L65.84 93.08 L65.89 96.07 L65.95 99.06 L66.02 102.06 L66.1 105.06 L66.18 108.07 L66.26 111.06 L66.34 114.05 L66.4 117.03 L66.45 120.01 L66.48 122.97 L66.48 125.93 L66.48 128.9 L66.47 131.86 M79.01 0.26 L79.05 3.26 L79.1 6.26 L79.18 9.26 L79.27 12.27 L79.37 15.26 L79.48 18.26 L79.59 21.26 L79.69 24.26 L79.77 27.25 L79.84 30.24 L79.87 33.23 L79.88 36.21 L79.85 39.18 L79.78 42.14 L79.68 45.09 L79.55 48.05 L79.38 51.01 L79.18 53.99 L78.97 56.97 L78.74 59.97 L78.51 62.95 L78.29 65.93 L78.08 68.89 L77.9 71.84 L77.73 74.77 L77.59 77.71 L77.47 80.64 L77.37 83.59 L77.29 86.54 L77.22 89.51 L77.17 92.51 L77.14 95.55 L77.13 98.64 L77.17 101.78 L77.26 104.95 L77.41 108.14 L77.61 111.3 L77.84 114.38 L78.09 117.38 L78.32 120.28 L78.5 123.13 L78.64 125.95 L78.72 128.79 L78.78 131.66 M91.44 0.29 L91.5 3.28 L91.57 6.27 L91.66 9.25 L91.77 12.24 L91.87 15.22 L91.97 18.21 L92.07 21.19 L92.15 24.17 L92.2 27.14 L92.23 30.12 L92.22 33.09 L92.19 36.06 L92.12 39.02 L92.03 41.97 L91.92 44.91 L91.8 47.85 L91.67 50.77 L91.54 53.7 L91.41 56.62 L91.3 59.54 L91.2 62.47 L91.12 65.4 L91.07 68.32 L91.05 71.25 L91.07 74.17 L91.12 77.09 L91.21 80.02 L91.33 82.95 L91.47 85.91 L91.63 88.89 L91.78 91.92 L91.93 95 L92.04 98.16 L92.12 101.4 L92.14 104.71 L92.11 108.04 L92.03 111.33 L91.9 114.51 L91.75 117.54 L91.6 120.43 L91.47 123.21 L91.36 125.95 L91.3 128.72 L91.27 131.54 M103.89 0.09 L103.96 3.06 L104.06 6.03 L104.16 9 L104.26 11.97 L104.36 14.93 L104.44 17.9 L104.51 20.86 L104.56 23.83 L104.58 26.79 L104.56 29.76 L104.51 32.72 L104.43 35.69 L104.32 38.65 L104.19 41.62 L104.04 44.58 L103.89 47.54 L103.74 50.5 L103.6 53.45 L103.48 56.41 L103.39 59.37 L103.33 62.33 L103.31 65.29 L103.33 68.25 L103.39 71.22 L103.48 74.19 L103.61 77.16 L103.76 80.14 L103.93 83.13 L104.11 86.12 L104.29 89.11 L104.46 92.12 L104.61 95.15 L104.72 98.2 L104.79 101.27 L104.79 104.36 L104.73 107.45 L104.6 110.54 L104.43 113.61 L104.24 116.64 L104.05 119.64 L103.89 122.61 L103.78 125.57 L103.71 128.55 L103.7 131.53 M116.35 -0.33 L116.44 2.63 L116.54 5.59 L116.64 8.56 L116.74 11.52 L116.82 14.49 L116.88 17.46 L116.91 20.43 L116.92 23.4 L116.9 26.37 L116.84 29.35 L116.75 32.33 L116.63 35.31 L116.49 38.29 L116.33 41.27 L116.17 44.26 L116 47.25 L115.85 50.24 L115.7 53.23 L115.58 56.23 L115.49 59.23 L115.43 62.23 L115.4 65.24 L115.41 68.25 L115.44 71.26 L115.5 74.27 L115.58 77.29 L115.68 80.31 L115.77 83.34 L115.87 86.36 L115.96 89.39 L116.04 92.42 L116.1 95.46 L116.15 98.5 L116.17 101.54 L116.17 104.58 L116.15 107.63 L116.13 110.67 L116.09 113.72 L116.06 116.77 L116.03 119.82 L116.02 122.86 L116.02 125.91 L116.05 128.96 L116.1 132.01 M128.83 -0.73 L128.93 2.25 L129.02 5.24 L129.11 8.22 L129.19 11.21 L129.24 14.21 L129.27 17.2 L129.26 20.2 L129.23 23.2 L129.16 26.21 L129.06 29.22 L128.94 32.23 L128.79 35.24 L128.63 38.26 L128.47 41.28 L128.3 44.3 L128.15 47.33 L128.01 50.35 L127.9 53.39 L127.81 56.42 L127.76 59.45 L127.73 62.49 L127.74 65.53 L127.78 68.58 L127.84 71.62 L127.92 74.67 L128.02 77.71 L128.11 80.76 L128.21 83.81 L128.29 86.87 L128.36 89.92 L128.42 92.97 L128.46 96.02 L128.47 99.08 L128.48 102.13 L128.46 105.18 L128.44 108.24 L128.42 111.29 L128.4 114.34 L128.38 117.39 L128.38 120.44 L128.4 123.48 L128.43 126.53 L128.49 129.57 L128.57 132.61 M-0.18 11.4 L2.82 11.53 L5.82 11.65 L8.83 11.78 L11.83 11.9 L14.84 12.01 L17.85 12.11 L20.86 12.19 L23.87 12.25 L26.88 12.29 L29.89 12.31 L32.91 12.32 L35.92 12.31 L38.94 12.29 L41.96 12.26 L44.98 12.22 L48.01 12.19 L51.03 12.15 L54.06 12.13 L57.09 12.1 L60.12 12.09 L63.15 12.09 L66.18 12.09 L69.21 12.11 L72.24 12.12 L75.28 12.14 L78.32 12.16 L81.35 12.17 L84.39 12.18 L87.43 12.17 L90.46 12.15 L93.5 12.12 L96.54 12.07 L99.58 12 L102.61 11.92 L105.65 11.82 L108.68 11.72 L111.72 11.61 L114.75 11.5 L117.78 11.39 L120.81 11.29 L123.84 11.21 L126.86 11.15 L129.88 11.11 L132.9 11.09 M-0.18 23.82 L2.84 23.95 L5.87 24.08 L8.89 24.2 L11.92 24.31 L14.95 24.4 L17.98 24.48 L21.01 24.53 L24.05 24.57 L27.08 24.59 L30.12 24.59 L33.16 24.57 L36.2 24.54 L39.24 24.51 L42.28 24.47 L45.32 24.43 L48.36 24.4 L51.4 24.37 L54.44 24.35 L57.48 24.34 L60.52 24.33 L63.56 24.34 L66.6 24.35 L69.64 24.36 L72.67 24.38 L75.71 24.4 L78.74 24.41 L81.77 24.41 L84.8 24.4 L87.83 24.38 L90.86 24.34 L93.88 24.28 L96.9 24.21 L99.92 24.13 L102.93 24.03 L105.94 23.93 L108.95 23.82 L111.96 23.71 L114.96 23.61 L117.96 23.52 L120.95 23.44 L123.94 23.39 L126.93 23.36 L129.92 23.35 L132.9 23.38 M0.15 36.25 L3.2 36.38 L6.24 36.5 L9.29 36.6 L12.33 36.69 L15.37 36.76 L18.42 36.81 L21.46 36.84 L24.5 36.86 L27.55 36.85 L30.59 36.83 L33.63 36.8 L36.66 36.76 L39.7 36.72 L42.73 36.68 L45.77 36.64 L48.8 36.61 L51.82 36.59 L54.85 36.58 L57.87 36.57 L60.88 36.57 L63.9 36.58 L66.91 36.59 L69.92 36.6 L72.93 36.61 L75.93 36.61 L78.93 36.61 L81.93 36.6 L84.93 36.57 L87.92 36.53 L90.91 36.48 L93.89 36.42 L96.86 36.33 L99.84 36.24 L102.81 36.14 L105.78 36.04 L108.75 35.93 L111.71 35.84 L114.68 35.75 L117.64 35.68 L120.59 35.64 L123.55 35.61 L126.5 35.62 L129.46 35.65 L132.41 35.71 M0.65 48.67 L3.69 48.79 L6.72 48.89 L9.75 48.98 L12.78 49.05 L15.81 49.09 L18.83 49.12 L21.85 49.12 L24.87 49.11 L27.88 49.09 L30.89 49.05 L33.9 49.01 L36.91 48.97 L39.91 48.93 L42.9 48.89 L45.9 48.86 L48.88 48.83 L51.87 48.82 L54.85 48.81 L57.82 48.81 L60.79 48.81 L63.74 48.82 L66.7 48.81 L69.66 48.8 L72.62 48.78 L75.59 48.75 L78.58 48.7 L81.57 48.66 L84.56 48.61 L87.54 48.56 L90.51 48.5 L93.46 48.45 L96.4 48.38 L99.34 48.31 L102.27 48.23 L105.2 48.14 L108.15 48.06 L111.09 47.98 L114.04 47.92 L116.99 47.89 L119.94 47.87 L122.89 47.89 L125.84 47.93 L128.8 48 L131.76 48.1 M0.87 61.09 L3.87 61.19 L6.86 61.27 L9.85 61.33 L12.84 61.37 L15.83 61.39 L18.81 61.39 L21.78 61.37 L24.76 61.34 L27.73 61.3 L30.7 61.26 L33.66 61.21 L36.63 61.17 L39.59 61.13 L42.55 61.1 L45.5 61.07 L48.46 61.06 L51.41 61.05 L54.35 61.06 L57.29 61.07 L60.22 61.08 L63.14 61.1 L66.05 61.1 L68.95 61.09 L71.85 61.06 L74.77 60.99 L77.73 60.9 L80.75 60.78 L83.81 60.65 L86.89 60.54 L89.96 60.45 L92.99 60.39 L95.96 60.35 L98.89 60.32 L101.8 60.28 L104.7 60.24 L107.63 60.19 L110.57 60.16 L113.53 60.13 L116.5 60.13 L119.48 60.16 L122.46 60.21 L125.45 60.29 L128.44 60.39 L131.43 60.52 M0.56 73.48 L3.52 73.56 L6.48 73.61 L9.43 73.65 L12.39 73.66 L15.34 73.65 L18.29 73.63 L21.24 73.6 L24.19 73.55 L27.14 73.51 L30.1 73.46 L33.05 73.41 L36 73.37 L38.95 73.33 L41.9 73.31 L44.86 73.3 L47.81 73.29 L50.77 73.29 L53.72 73.3 L56.67 73.31 L59.62 73.32 L62.55 73.33 L65.45 73.33 L68.32 73.3 L71.16 73.25 L74 73.15 L76.9 73.01 L79.91 72.85 L83.07 72.67 L86.35 72.51 L89.65 72.4 L92.89 72.34 L96 72.32 L98.98 72.33 L101.87 72.35 L104.73 72.36 L107.62 72.36 L110.54 72.37 L113.51 72.39 L116.5 72.43 L119.51 72.49 L122.53 72.58 L125.55 72.69 L128.57 72.82 L131.6 72.97 M-0.07 85.84 L2.88 85.89 L5.84 85.92 L8.8 85.93 L11.75 85.91 L14.71 85.89 L17.68 85.85 L20.64 85.8 L23.61 85.75 L26.57 85.7 L29.54 85.65 L32.52 85.61 L35.49 85.57 L38.47 85.55 L41.46 85.53 L44.44 85.53 L47.43 85.53 L50.42 85.53 L53.41 85.54 L56.4 85.55 L59.37 85.55 L62.32 85.54 L65.21 85.52 L68.05 85.46 L70.81 85.36 L73.57 85.22 L76.4 85.03 L79.44 84.81 L82.74 84.61 L86.26 84.44 L89.87 84.35 L93.38 84.33 L96.66 84.36 L99.68 84.42 L102.51 84.49 L105.28 84.54 L108.08 84.59 L110.94 84.64 L113.87 84.7 L116.85 84.78 L119.86 84.87 L122.89 84.99 L125.92 85.12 L128.95 85.27 L131.98 85.43 M-0.53 98.17 L2.45 98.19 L5.44 98.19 L8.43 98.17 L11.42 98.14 L14.41 98.1 L17.41 98.04 L20.41 97.99 L23.41 97.94 L26.41 97.89 L29.42 97.84 L32.43 97.81 L35.44 97.78 L38.45 97.77 L41.47 97.76 L44.49 97.76 L47.51 97.77 L50.53 97.78 L53.55 97.78 L56.56 97.79 L59.55 97.78 L62.49 97.76 L65.36 97.72 L68.13 97.66 L70.8 97.57 L73.45 97.45 L76.21 97.3 L79.26 97.13 L82.7 96.97 L86.47 96.84 L90.36 96.75 L94.1 96.71 L97.5 96.72 L100.51 96.75 L103.25 96.8 L105.89 96.85 L108.56 96.91 L111.33 96.98 L114.21 97.06 L117.15 97.17 L120.14 97.29 L123.14 97.43 L126.15 97.58 L129.17 97.74 L132.18 97.9 M-0.55 110.46 L2.46 110.45 L5.48 110.43 L8.5 110.39 L11.52 110.34 L14.54 110.29 L17.56 110.23 L20.58 110.17 L23.6 110.12 L26.63 110.08 L29.65 110.04 L32.68 110.02 L35.7 110 L38.73 109.99 L41.75 110 L44.78 110 L47.8 110.01 L50.82 110.02 L53.84 110.02 L56.85 110.01 L59.84 110 L62.79 109.98 L65.67 109.97 L68.46 109.96 L71.16 109.98 L73.83 110.03 L76.61 110.11 L79.64 110.21 L83.02 110.28 L86.69 110.28 L90.47 110.2 L94.12 110.04 L97.46 109.83 L100.46 109.63 L103.21 109.47 L105.88 109.38 L108.57 109.36 L111.35 109.4 L114.22 109.48 L117.16 109.6 L120.13 109.74 L123.12 109.89 L126.12 110.05 L129.12 110.2 L132.12 110.35 M-0.31 122.71 L2.71 122.68 L5.73 122.64 L8.75 122.59 L11.77 122.53 L14.79 122.47 L17.81 122.41 L20.83 122.35 L23.84 122.31 L26.86 122.27 L29.87 122.25 L32.89 122.23 L35.9 122.23 L38.91 122.23 L41.92 122.23 L44.93 122.24 L47.94 122.25 L50.94 122.25 L53.95 122.24 L56.95 122.22 L59.95 122.2 L62.93 122.17 L65.88 122.14 L68.81 122.12 L71.71 122.14 L74.6 122.19 L77.52 122.29 L80.53 122.41 L83.65 122.5 L86.86 122.54 L90.12 122.48 L93.33 122.34 L96.44 122.14 L99.44 121.96 L102.37 121.82 L105.26 121.74 L108.16 121.75 L111.1 121.81 L114.06 121.91 L117.05 122.05 L120.05 122.2 L123.06 122.36 L126.07 122.51 L129.09 122.65 L132.11 122.78" stroke="#083a7c" stroke-width="0.95" fill="none" opacity="0.66"/>
<g transform="translate(445.2 212.1)">
<path d="M72.08 53.91 L72.42 53.98 L72.85 54.04 L73.36 54.1 L73.95 54.15 L74.58 54.21 L75.26 54.27 L75.97 54.35 L76.68 54.45 L77.4 54.59 L78.09 54.77 L78.76 55 L79.37 55.29 L79.93 55.59 L80.48 55.89 L81.03 56.21 L81.59 56.55 L82.14 56.92 L82.68 57.3 L83.22 57.71 L83.74 58.16 L84.26 58.63 L84.75 59.13 L85.23 59.67 L85.68 60.25 L86.1 60.85 L86.48 61.47 L86.84 62.13 L87.16 62.82 L87.48 63.52 L87.81 64.24 L88.14 64.98 L88.48 65.75 L88.81 66.53 L89.14 67.35 L89.46 68.2 L89.77 69.08 L90.05 70.01 L90.29 70.97 L90.49 71.97 L90.62 72.99 L90.75 74.03 L90.93 75.1 L91.14 76.18 L91.37 77.28 L91.62 78.4 L91.85 79.55 L92.06 80.71 L92.23 81.91 L92.32 83.16 L92.36 84.46 L92.46 85.78 L92.61 87.12 L92.79 88.48 L92.97 89.86 L93.13 91.24 L93.23 92.61 L93.25 93.98 L93.25 95.34 L93.3 96.68 L93.38 98.01 L93.48 99.39 L93.59 100.87 L93.69 102.42 L93.74 104.01 L93.69 105.6 L93.53 107.18 L93.36 108.69 L93.26 110.13 L93.19 111.45 L92.67 112.63 L92.17 113.65 L92 114.45 L91.9 115.33 L91.57 116.16 L91.04 116.87 L90.34 117.42 L89.52 117.77 L88.65 117.9 L87.77 117.8 L86.94 117.47 L86.23 116.94 L85.68 116.24 L85.33 115.42 L85.2 114.55 L85.01 113.75 L84.48 112.76 L83.92 111.6 L83.81 110.28 L83.66 108.84 L83.44 107.32 L83.24 105.75 L83.14 104.14 L83.16 102.53 L83.23 100.95 L83.32 99.43 L83.42 97.99 L83.52 96.59 L83.6 95.19 L83.65 93.78 L83.73 92.39 L83.9 91.01 L84.13 89.64 L84.38 88.3 L84.61 86.99 L84.79 85.71 L84.9 84.46 L84.93 83.26 L84.97 82.09 L85.07 80.93 L85.2 79.79 L85.35 78.67 L85.49 77.57 L85.61 76.5 L85.68 75.47 L85.7 74.46 L85.65 73.49 L85.57 72.56 L85.51 71.65 L85.47 70.77 L85.43 69.92 L85.39 69.08 L85.33 68.27 L85.25 67.49 L85.15 66.74 L85.02 66.01 L84.85 65.32 L84.65 64.66 L84.41 64.03 L84.15 63.44 L83.88 62.86 L83.6 62.3 L83.32 61.75 L83.03 61.23 L82.73 60.72 L82.4 60.23 L82.06 59.75 L81.69 59.29 L81.31 58.85 L80.9 58.43 L80.48 58.03 L80.04 57.66 L79.58 57.31 L79.11 56.99 L78.63 56.71 L78.13 56.47 L77.58 56.24 L76.99 56.02 L76.35 55.8 L75.7 55.6 L75.05 55.41 L74.41 55.24 L73.8 55.09 L73.22 54.96 L72.71 54.86 L72.27 54.77 L71.92 54.69Z" fill="#083472" opacity="0.82" filter="url(#b1)"/>
<linearGradient id="gf" gradientUnits="userSpaceOnUse" x1="0" y1="100" x2="0" y2="52"><stop offset="0" stop-color="#d6e6f4" stop-opacity="0.75"/><stop offset="0.3" stop-color="#9ecae1" stop-opacity="0.5"/><stop offset="0.7" stop-color="#6baed6" stop-opacity="0.32"/><stop offset="1" stop-color="#6baed6" stop-opacity="0.18"/></linearGradient>
<path d="M37.2 105.96 L37.22 105.43 L37.23 104.78 L37.24 104.01 L37.23 103.15 L37.23 102.21 L37.22 101.21 L37.23 100.16 L37.25 99.09 L37.29 98.01 L37.35 96.94 L37.44 95.89 L37.55 94.89 L37.67 93.92 L37.8 92.95 L37.94 91.97 L38.08 90.98 L38.24 89.99 L38.39 88.99 L38.55 87.98 L38.72 86.96 L38.88 85.94 L39.05 84.91 L39.23 83.86 L39.42 82.82 L39.63 81.76 L39.84 80.67 L40.07 79.56 L40.3 78.43 L40.55 77.3 L40.81 76.16 L41.08 75.03 L41.36 73.92 L41.66 72.82 L41.97 71.74 L42.3 70.7 L42.64 69.7 L42.99 68.74 L43.35 67.78 L43.72 66.85 L44.11 65.92 L44.5 65.02 L44.92 64.14 L45.36 63.29 L45.81 62.46 L46.29 61.66 L46.79 60.9 L47.31 60.17 L47.86 59.48 L48.42 58.84 L49 58.22 L49.6 57.65 L50.22 57.1 L50.86 56.59 L51.51 56.12 L52.18 55.67 L52.86 55.26 L53.57 54.88 L54.29 54.53 L55.02 54.21 L55.78 53.91 L56.61 53.65 L57.51 53.45 L58.46 53.28 L59.45 53.15 L60.44 53.05 L61.43 52.98 L62.38 52.92 L63.28 52.87 L64.12 52.83 L64.85 52.79 L65.47 52.75 L65.95 52.7 L66.05 53.7 L65.55 53.75 L64.91 53.79 L64.17 53.84 L63.34 53.89 L62.45 53.96 L61.51 54.03 L60.55 54.14 L59.59 54.26 L58.65 54.42 L57.76 54.6 L56.95 54.83 L56.22 55.09 L55.54 55.39 L54.87 55.72 L54.21 56.07 L53.58 56.45 L52.96 56.86 L52.37 57.3 L51.79 57.76 L51.22 58.25 L50.68 58.77 L50.15 59.32 L49.64 59.91 L49.14 60.52 L48.67 61.16 L48.21 61.84 L47.77 62.56 L47.34 63.32 L46.93 64.1 L46.53 64.92 L46.14 65.76 L45.76 66.63 L45.39 67.52 L45.04 68.43 L44.69 69.36 L44.36 70.3 L44.04 71.26 L43.74 72.27 L43.45 73.31 L43.18 74.38 L42.92 75.47 L42.67 76.59 L42.43 77.7 L42.2 78.83 L41.98 79.94 L41.77 81.04 L41.57 82.13 L41.38 83.18 L41.19 84.21 L41.02 85.23 L40.86 86.25 L40.71 87.26 L40.59 88.26 L40.48 89.26 L40.39 90.25 L40.31 91.24 L40.24 92.22 L40.17 93.19 L40.11 94.16 L40.05 95.11 L39.99 96.08 L39.94 97.1 L39.88 98.15 L39.82 99.21 L39.75 100.26 L39.68 101.29 L39.61 102.28 L39.54 103.22 L39.49 104.08 L39.45 104.85 L39.42 105.51 L39.4 106.04 L39.35 106.33 L39.23 106.59 L39.05 106.81 L38.81 106.97 L38.54 107.07 L38.26 107.1 L37.97 107.05 L37.71 106.93 L37.49 106.75 L37.33 106.51 L37.23 106.24Z" fill="url(#gf)" filter="url(#b2)"/>
</g>
<rect x="445.57" y="212.71" width="131.83" height="131.39" filter="url(#nzf)" opacity="0.4"/>
</g>
<rect x="445.2" y="212.1" width="132.2" height="132" fill="none" stroke="#222" stroke-width="0.35"/>
<path d="M445.2 344.1 v1.5 M445.2 212.1 h-1.5 M461.72 344.1 v1.5 M445.2 228.6 h-1.5 M478.25 344.1 v1.5 M445.2 245.1 h-1.5 M494.77 344.1 v1.5 M445.2 261.6 h-1.5 M511.3 344.1 v1.5 M445.2 278.1 h-1.5 M527.83 344.1 v1.5 M445.2 294.6 h-1.5 M544.35 344.1 v1.5 M445.2 311.1 h-1.5 M560.88 344.1 v1.5 M445.2 327.6 h-1.5 M577.4 344.1 v1.5 M445.2 344.1 h-1.5" stroke="#222" stroke-width="0.4" fill="none"/>
<g class="s" font-size="5.2" fill="#222">
<text x="445.2" y="350.8" text-anchor="middle">−<tspan dx="-0.45">0.8</tspan></text>
<text x="461.72" y="350.8" text-anchor="middle">−<tspan dx="-0.45">0.6</tspan></text>
<text x="478.25" y="350.8" text-anchor="middle">−<tspan dx="-0.45">0.4</tspan></text>
<text x="494.77" y="350.8" text-anchor="middle">−<tspan dx="-0.45">0.2</tspan></text>
<text x="511.3" y="350.8" text-anchor="middle">0.0</text>
<text x="527.83" y="350.8" text-anchor="middle">0.2</text>
<text x="544.35" y="350.8" text-anchor="middle">0.4</text>
<text x="560.88" y="350.8" text-anchor="middle">0.6</text>
<text x="577.4" y="350.8" text-anchor="middle">0.8</text>
<text x="442.6" y="214" text-anchor="end">0.6</text>
<text x="442.6" y="230.5" text-anchor="end">0.4</text>
<text x="442.6" y="247" text-anchor="end">0.2</text>
<text x="442.6" y="263.5" text-anchor="end">0.0</text>
<text x="442.6" y="280" text-anchor="end">−<tspan dx="-0.45">0.2</tspan></text>
<text x="442.6" y="296.5" text-anchor="end">−<tspan dx="-0.45">0.4</tspan></text>
<text x="442.6" y="313" text-anchor="end">−<tspan dx="-0.45">0.6</tspan></text>
<text x="442.6" y="329.5" text-anchor="end">−<tspan dx="-0.45">0.8</tspan></text>
<text x="442.6" y="346" text-anchor="end">−<tspan dx="-0.45">1.0</tspan></text>
</g>
<text class="t" x="511.6" y="359.05" text-anchor="middle" font-size="8.2" font-weight="bold" fill="#111"><tspan font-style="italic">x</tspan> (mm)</text>
<text class="t" transform="translate(428.2 279.4) rotate(-90)" text-anchor="middle" font-size="8.2" font-weight="bold" fill="#111"><tspan font-style="italic">y</tspan> (mm)</text>
<text class="t" x="509.7" y="205.8" text-anchor="middle" font-size="13.6" fill="#000">+100 kA &amp; −5 nC/mm</text>
<text class="t" x="562.2" y="232.05" text-anchor="middle" font-size="15" fill="#fff" stroke="#fff" stroke-width="0.15">(f)</text>
<g transform="translate(445.2 212.1)">
<path d="M74.2 95.1 L66.93 80.57" stroke="#fff" stroke-width="1.25" fill="none"/>
<path d="M65.1 76.9 L68.72 80.23 L65.59 81.8 Z" fill="#fff"/>
<text class="t" x="65.1" y="111.7" text-anchor="middle" font-size="9.05" fill="#fff">Rotation</text>
</g>
<rect x="585.6" y="196.4" width="8.1" height="163.6" fill="url(#cb)" stroke="#909090" stroke-width="0.8"/>
<g class="s" font-size="5.2" fill="#222">
<text x="596.2" y="362">0</text>
<text x="596.2" y="342.64">2</text>
<text x="596.2" y="323.28">4</text>
<text x="596.2" y="303.92">6</text>
<text x="596.2" y="284.56">8</text>
<text x="596.2" y="265.2">10</text>
<text x="596.2" y="245.83">12</text>
<text x="596.2" y="226.47">14</text>
<text x="596.2" y="207.11">16</text>
</g>
<path d="M594 360 h1.4 M594 340.64 h1.4 M594 321.28 h1.4 M594 301.92 h1.4 M594 282.56 h1.4 M594 263.2 h1.4 M594 243.83 h1.4 M594 224.47 h1.4 M594 205.11 h1.4" stroke="#222" stroke-width="0.4" fill="none"/>
<text class="s" transform="translate(607.7 279.2) rotate(-90)" text-anchor="middle" font-size="5.2" fill="#333">Intensity</text>
</g>
</svg></body></html>
